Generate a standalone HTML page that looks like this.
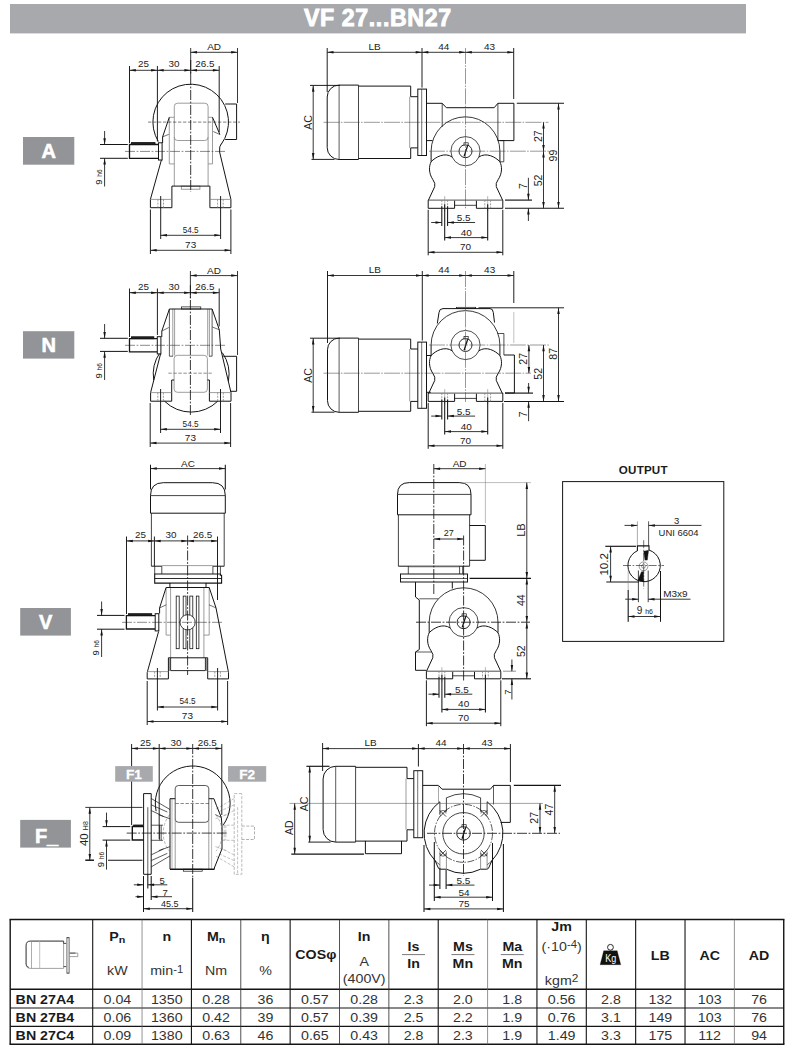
<!DOCTYPE html>
<html><head><meta charset="utf-8"><title>VF 27...BN27</title>
<style>
html,body{margin:0;padding:0;background:#fff;}
body{width:794px;height:1052px;overflow:hidden;}
svg{display:block;font-family:'Liberation Sans', sans-serif;}
</style></head><body>
<svg width="794" height="1052" viewBox="0 0 794 1052">
<rect width="794" height="1052" fill="#fff"/>
<rect x="10" y="4" width="736" height="29.4" fill="#a7a9ac"/>
<text x="377.8" y="26.1" font-size="23.2" font-weight="bold" text-anchor="middle" fill="#fff" stroke="#fff" stroke-width="0.9" letter-spacing="0.6">VF 27...BN27</text>
<rect x="23" y="137" width="51.3" height="27.7" fill="#929497"/>
<text x="48.65" y="158.15" font-size="20" font-weight="bold" text-anchor="middle" fill="#fff" stroke="#fff" stroke-width="0.6">A</text>
<rect x="23" y="331.2" width="51.3" height="27.4" fill="#929497"/>
<text x="48.65" y="351.8" font-size="20" font-weight="bold" text-anchor="middle" fill="#fff" stroke="#fff" stroke-width="0.6">N</text>
<rect x="20.2" y="608" width="50.7" height="27.6" fill="#929497"/>
<text x="45.55" y="628.6" font-size="20" font-weight="bold" text-anchor="middle" fill="#fff" stroke="#fff" stroke-width="0.6">V</text>
<rect x="20.2" y="819.9" width="50.7" height="27.7" fill="#929497"/>
<text x="46.55" y="842.65" font-size="20" font-weight="bold" text-anchor="middle" fill="#fff" stroke="#fff" stroke-width="0.6">F_</text>
<text x="643.3" y="474" font-size="11.6" font-weight="bold" text-anchor="middle" fill="#1a1a1a" letter-spacing="0.2">OUTPUT</text>
<rect x="562.6" y="481.6" width="161.2" height="159.8" rx="0" stroke="#141414" stroke-width="1.0" fill="none"/>
<path d="M637.4,550.75 A16.2,16.2 0 1 0 649,550.06" stroke="#141414" stroke-width="1.0" fill="none" />
<path d="M637.4,551.05 V545.9 H649 V550.36" stroke="#141414" stroke-width="1.1" fill="none" />
<path d="M643.7,551.35 L648.6,550.26 L647.3,560.1 L645,560.1 Z" stroke="#141414" stroke-width="0.4" fill="#111" />
<path d="M643.6,571.7 L641.5,571.7 L637.8,580.5 L643.6,581.5 Z" stroke="#141414" stroke-width="0.4" fill="#111" />
<circle cx="643.5" cy="566.3" r="4.4" stroke="#555" stroke-width="0.6" fill="none"/>
<circle cx="643.5" cy="566.3" r="1.9" stroke="#555" stroke-width="0.6" fill="none"/>
<line x1="623" y1="565.5" x2="664" y2="565.5" stroke="#141414" stroke-width="0.6" stroke-dasharray="8 1.6 1.6 1.6"/>
<line x1="643.7" y1="540.2" x2="643.7" y2="588.6" stroke="#141414" stroke-width="0.6" stroke-dasharray="8 1.6 1.6 1.6"/>
<line x1="637.4" y1="521.3" x2="637.4" y2="545.9" stroke="#666" stroke-width="0.55"/>
<line x1="648.6" y1="521.3" x2="648.6" y2="545.9" stroke="#141414" stroke-width="0.7"/>
<line x1="624.5" y1="525.4" x2="637.4" y2="525.4" stroke="#141414" stroke-width="0.85"/>
<line x1="648.6" y1="525.4" x2="701.5" y2="525.4" stroke="#141414" stroke-width="0.85"/>
<polygon points="637.4,525.4 631.1,526.65 631.1,524.15" fill="#141414"/>
<polygon points="648.6,525.4 654.9,524.15 654.9,526.65" fill="#141414"/>
<text transform="translate(676.6 520.9) scale(1.0 1)" y="3.4" font-size="9.45" text-anchor="middle" font-weight="normal" fill="#222" >3</text>
<text transform="translate(678.5 532.8) scale(1.0 1)" y="3.4" font-size="9.45" text-anchor="middle" font-weight="normal" fill="#222" >UNI 6604</text>
<line x1="605.3" y1="546.3" x2="636" y2="546.3" stroke="#141414" stroke-width="1.15"/>
<line x1="606.3" y1="582" x2="638.8" y2="582" stroke="#141414" stroke-width="1.15"/>
<line x1="610.6" y1="546.3" x2="610.6" y2="582" stroke="#141414" stroke-width="0.85"/>
<polygon points="610.6,546.3 611.85,552.6 609.35,552.6" fill="#141414"/>
<polygon points="610.6,582 609.35,575.7 611.85,575.7" fill="#141414"/>
<text transform="translate(603.9 564.3) rotate(-90) scale(1.0 1)" y="4.17" font-size="11.58" text-anchor="middle" font-weight="normal" fill="#222" >10.2</text>
<line x1="638.4" y1="570.5" x2="638.4" y2="602.2" stroke="#141414" stroke-width="0.8"/>
<line x1="648.2" y1="570.5" x2="648.2" y2="602.2" stroke="#141414" stroke-width="0.8"/>
<line x1="625.2" y1="599.2" x2="638.4" y2="599.2" stroke="#141414" stroke-width="0.85"/>
<line x1="648.2" y1="599.2" x2="690.5" y2="599.2" stroke="#141414" stroke-width="0.85"/>
<polygon points="638.4,599.2 632.1,600.45 632.1,597.95" fill="#141414"/>
<polygon points="648.2,599.2 654.5,597.95 654.5,600.45" fill="#141414"/>
<text transform="translate(675.4 593.8) scale(1.0 1)" y="3.59" font-size="9.97" text-anchor="middle" font-weight="normal" fill="#222" >M3x9</text>
<line x1="628.2" y1="570.5" x2="628.2" y2="621.8" stroke="#848484" stroke-width="0.6"/>
<line x1="628.2" y1="590" x2="628.2" y2="621.8" stroke="#141414" stroke-width="0.95"/>
<line x1="660.5" y1="571" x2="660.5" y2="621.8" stroke="#141414" stroke-width="1.05"/>
<line x1="628.2" y1="616.5" x2="660.5" y2="616.5" stroke="#141414" stroke-width="0.85"/>
<polygon points="628.2,616.5 634.5,615.25 634.5,617.75" fill="#141414"/>
<polygon points="660.5,616.5 654.2,617.75 654.2,615.25" fill="#141414"/>
<text x="636.8" y="613.6" font-size="10" fill="#222">9 <tspan font-size="7">h6</tspan></text>
<path d="M158.3,141.47 A37.8,37.8 0 1 1 221.28,144.22" stroke="#141414" stroke-width="1.0" fill="none" />
<path d="M225.2,104 H236.6 V139.5 H225.2" stroke="#141414" stroke-width="1.0" fill="none" />
<rect x="174.3" y="103.2" width="33.8" height="37.3" rx="3.3" stroke="#848484" stroke-width="0.8" fill="none"/>
<line x1="174.3" y1="137" x2="174.3" y2="186.1" stroke="#848484" stroke-width="0.8"/>
<line x1="208.1" y1="137" x2="208.1" y2="186.1" stroke="#848484" stroke-width="0.8"/>
<path d="M174.3,117.3 H169.3 V163.9 H174.3" stroke="#848484" stroke-width="0.8" fill="none" />
<path d="M208.1,117.3 H212.5 V163.9 H208.1" stroke="#848484" stroke-width="0.8" fill="none" />
<rect x="181.3" y="186.1" width="18.6" height="3.1" rx="0" stroke="#848484" stroke-width="0.8" fill="none"/>
<path d="M169.3,117.3 L162.6,136.9 V143 M161.5,159.6 L150.4,199.4 V207.7 H171.9 V186.1 H209.9 V207.7 H230.9 V199.4 L219.6,152 Q219,146 221.4,143.6 M212.5,117.3 L219.9,134.5" stroke="#141414" stroke-width="1.0" fill="none" />
<path d="M162.6,136.9 L168.8,134.3" stroke="#141414" stroke-width="0.6" fill="none" />
<path d="M219.9,134.5 L213.2,131.5" stroke="#141414" stroke-width="0.6" fill="none" />
<line x1="150.4" y1="199.4" x2="171.9" y2="199.4" stroke="#848484" stroke-width="0.8"/>
<line x1="209.9" y1="199.4" x2="230.9" y2="199.4" stroke="#848484" stroke-width="0.8"/>
<line x1="157.9" y1="199.4" x2="157.9" y2="207.7" stroke="#848484" stroke-width="0.8" stroke-dasharray="2 1.2"/>
<line x1="163.5" y1="199.4" x2="163.5" y2="207.7" stroke="#848484" stroke-width="0.8" stroke-dasharray="2 1.2"/>
<line x1="217.6" y1="199.4" x2="217.6" y2="207.7" stroke="#848484" stroke-width="0.8" stroke-dasharray="2 1.2"/>
<line x1="223.2" y1="199.4" x2="223.2" y2="207.7" stroke="#848484" stroke-width="0.8" stroke-dasharray="2 1.2"/>
<path d="M158.5,144.5 H129.5 V158.3 H158.5" stroke="#141414" stroke-width="1.3" fill="none" />
<rect x="131.5" y="142.6" width="23.5" height="1.9" rx="0" stroke="#141414" stroke-width="0.9" fill="#222"/>
<rect x="158.5" y="142.8" width="3.6" height="17.2" rx="0" stroke="#141414" stroke-width="1.0" fill="#fff"/>
<line x1="148" y1="122.1" x2="240" y2="122.1" stroke="#141414" stroke-width="0.55" stroke-dasharray="3.4 1.6"/>
<line x1="125" y1="151.4" x2="225" y2="151.4" stroke="#141414" stroke-width="0.5" stroke-dasharray="10 1.6 1.8 1.6"/>
<line x1="190.7" y1="60" x2="190.7" y2="192" stroke="#141414" stroke-width="0.85" stroke-dasharray="10 1.6 1.8 1.6"/>
<line x1="190.7" y1="48" x2="190.7" y2="75" stroke="#141414" stroke-width="0.85"/>
<line x1="237.5" y1="48" x2="237.5" y2="103" stroke="#141414" stroke-width="0.85"/>
<line x1="190.7" y1="52.3" x2="237.5" y2="52.3" stroke="#141414" stroke-width="0.85"/>
<polygon points="190.7,52.3 197,51.05 197,53.55" fill="#141414"/>
<polygon points="237.5,52.3 231.2,53.55 231.2,51.05" fill="#141414"/>
<text transform="translate(214.1 46.6) scale(1.0 1)" y="3.59" font-size="9.97" text-anchor="middle" font-weight="normal" fill="#222" >AD</text>
<line x1="129.5" y1="66" x2="129.5" y2="143" stroke="#141414" stroke-width="0.95"/>
<line x1="157.4" y1="66" x2="157.4" y2="141.5" stroke="#141414" stroke-width="0.95"/>
<line x1="219.2" y1="66" x2="219.2" y2="132" stroke="#141414" stroke-width="0.95"/>
<line x1="129.5" y1="70.3" x2="157.4" y2="70.3" stroke="#141414" stroke-width="0.85"/>
<polygon points="129.5,70.3 135.8,69.05 135.8,71.55" fill="#141414"/>
<polygon points="157.4,70.3 151.1,71.55 151.1,69.05" fill="#141414"/>
<text transform="translate(143.45 63.6) scale(1.0 1)" y="3.55" font-size="9.87" text-anchor="middle" font-weight="normal" fill="#222" >25</text>
<line x1="157.4" y1="70.3" x2="190.7" y2="70.3" stroke="#141414" stroke-width="0.85"/>
<polygon points="157.4,70.3 163.7,69.05 163.7,71.55" fill="#141414"/>
<polygon points="190.7,70.3 184.4,71.55 184.4,69.05" fill="#141414"/>
<text transform="translate(174.05 63.6) scale(1.0 1)" y="3.55" font-size="9.87" text-anchor="middle" font-weight="normal" fill="#222" >30</text>
<line x1="190.7" y1="70.3" x2="219.2" y2="70.3" stroke="#141414" stroke-width="0.85"/>
<polygon points="190.7,70.3 197,69.05 197,71.55" fill="#141414"/>
<polygon points="219.2,70.3 212.9,71.55 212.9,69.05" fill="#141414"/>
<text transform="translate(204.95 63.6) scale(1.0 1)" y="3.55" font-size="9.87" text-anchor="middle" font-weight="normal" fill="#222" >26.5</text>
<line x1="160.7" y1="196" x2="160.7" y2="239" stroke="#141414" stroke-width="0.95"/>
<line x1="220.6" y1="196" x2="220.6" y2="239" stroke="#141414" stroke-width="0.95"/>
<line x1="150.4" y1="209.5" x2="150.4" y2="254" stroke="#141414" stroke-width="0.95"/>
<line x1="230.9" y1="209.5" x2="230.9" y2="254" stroke="#141414" stroke-width="0.95"/>
<line x1="160.7" y1="235.3" x2="220.6" y2="235.3" stroke="#141414" stroke-width="0.85"/>
<polygon points="160.7,235.3 167,234.05 167,236.55" fill="#141414"/>
<polygon points="220.6,235.3 214.3,236.55 214.3,234.05" fill="#141414"/>
<text transform="translate(190.65 229.6) scale(1.0 1)" y="2.95" font-size="8.19" text-anchor="middle" font-weight="normal" fill="#222" >54.5</text>
<line x1="150.4" y1="250.3" x2="230.9" y2="250.3" stroke="#141414" stroke-width="0.85"/>
<polygon points="150.4,250.3 156.7,249.05 156.7,251.55" fill="#141414"/>
<polygon points="230.9,250.3 224.6,251.55 224.6,249.05" fill="#141414"/>
<text transform="translate(190.65 244.2) scale(1.0 1)" y="3.59" font-size="9.97" text-anchor="middle" font-weight="normal" fill="#222" >73</text>
<line x1="100" y1="144.5" x2="127.8" y2="144.5" stroke="#141414" stroke-width="1.0"/>
<line x1="100" y1="158.3" x2="127.8" y2="158.3" stroke="#141414" stroke-width="1.0"/>
<line x1="104.6" y1="131" x2="104.6" y2="144.5" stroke="#141414" stroke-width="0.85"/>
<line x1="104.6" y1="158.3" x2="104.6" y2="186.5" stroke="#141414" stroke-width="0.85"/>
<polygon points="104.6,144.5 103.35,138.2 105.85,138.2" fill="#141414"/>
<polygon points="104.6,158.3 105.85,164.6 103.35,164.6" fill="#141414"/>
<text transform="translate(102.4 184.8) rotate(-90)" font-size="9.6" fill="#222">9 <tspan font-size="6.6">h6</tspan></text>
<path d="M358.5,85.1 H339.1 A11.9,11.9 0 0 0 327.2,97 V147.6 A11.9,11.9 0 0 0 339.1,159.5 H358.5" stroke="#141414" stroke-width="1.0" fill="none" />
<line x1="339.1" y1="85.1" x2="339.1" y2="159.5" stroke="#141414" stroke-width="0.7"/>
<line x1="358.5" y1="85.1" x2="358.5" y2="159.5" stroke="#141414" stroke-width="0.8"/>
<path d="M358.5,86.1 H410.7 V96.7 H417.8 M417.8,147.9 H410.7 V158.5 H358.5" stroke="#141414" stroke-width="1.0" fill="none" />
<line x1="409.7" y1="96.7" x2="409.7" y2="147.9" stroke="#848484" stroke-width="0.8"/>
<rect x="417.8" y="89.1" width="8.7" height="66.4" rx="0" stroke="#141414" stroke-width="1.0" fill="none"/>
<line x1="421.7" y1="89.1" x2="421.7" y2="155.5" stroke="#141414" stroke-width="0.6"/>
<path d="M426.5,103.3 H442.2 L446.3,107.7 H494.2 L497.9,103.3 H513.9 V140.6 H497.9" stroke="#141414" stroke-width="1.0" fill="none" />
<line x1="442.2" y1="103.3" x2="442.2" y2="127" stroke="#141414" stroke-width="0.75"/>
<line x1="497.9" y1="103.3" x2="497.9" y2="140.6" stroke="#141414" stroke-width="0.75"/>
<path d="M426.5,140.6 H432.5" stroke="#141414" stroke-width="1.0" fill="none" />
<path d="M499.8,140.6 H503.8 V161.8 H499.9" stroke="#141414" stroke-width="0.75" fill="none" />
<circle cx="465.5" cy="151.2" r="14.6" stroke="#141414" stroke-width="0.75" fill="none"/>
<circle cx="465.5" cy="151.2" r="6.5" stroke="#141414" stroke-width="0.9" fill="none"/>
<rect x="464" y="142.8" width="4.2" height="2.2" rx="0" stroke="#141414" stroke-width="0.7" fill="#fff"/>
<path d="M467.7,145.4 L464.1,156.4" stroke="#141414" stroke-width="1.3" fill="none" />
<path d="M431.1,151.2 A34.4,34.4 0 0 1 499.9,151.2" stroke="#141414" stroke-width="0.85" fill="none" />
<path d="M431.1,151.2 V161.7 C428.9,166.2 428.5,173.2 432.9,179.7 Q435.7,183.5 434.7,186.7 L428.5,200" stroke="#141414" stroke-width="1.0" fill="none" />
<path d="M431.1,161.7 C435.5,157.2 444.5,151.8 452.4,157.1" stroke="#141414" stroke-width="1.0" fill="none" />
<path d="M499.9,151.2 V161.7 C502.1,166.2 502.5,173.2 498.1,179.7 Q495.3,183.5 496.3,186.7 L502.5,200" stroke="#141414" stroke-width="1.0" fill="none" />
<path d="M499.9,161.7 C495.5,157.2 486.5,151.8 478.6,157.1" stroke="#141414" stroke-width="1.0" fill="none" />
<line x1="428.2" y1="200.1" x2="502.8" y2="200.1" stroke="#141414" stroke-width="0.75"/>
<path d="M428.2,200.1 V208.3 H454.6 V200.7 M476.4,200.7 V208.3 H502.8 V200.1" stroke="#141414" stroke-width="1.0" fill="none" />
<line x1="454.6" y1="205.3" x2="476.4" y2="205.3" stroke="#141414" stroke-width="0.8"/>
<line x1="441.8" y1="200.1" x2="441.8" y2="208.3" stroke="#848484" stroke-width="0.8" stroke-dasharray="2 1.2"/>
<line x1="447.6" y1="200.1" x2="447.6" y2="208.3" stroke="#848484" stroke-width="0.8" stroke-dasharray="2 1.2"/>
<line x1="444.7" y1="196.1" x2="444.7" y2="211.3" stroke="#848484" stroke-width="0.6"/>
<line x1="484.8" y1="200.1" x2="484.8" y2="208.3" stroke="#848484" stroke-width="0.8" stroke-dasharray="2 1.2"/>
<line x1="490.6" y1="200.1" x2="490.6" y2="208.3" stroke="#848484" stroke-width="0.8" stroke-dasharray="2 1.2"/>
<line x1="487.7" y1="196.1" x2="487.7" y2="211.3" stroke="#848484" stroke-width="0.6"/>
<line x1="323.5" y1="122.3" x2="548.5" y2="122.3" stroke="#333" stroke-width="0.5" stroke-dasharray="16 1.3 1.6 1.3"/>
<line x1="465.5" y1="48" x2="465.5" y2="209" stroke="#333" stroke-width="0.5" stroke-dasharray="16 1.3 1.6 1.3"/>
<line x1="429" y1="151.2" x2="549" y2="151.2" stroke="#333" stroke-width="0.5" stroke-dasharray="16 1.3 1.6 1.3"/>
<line x1="327.2" y1="48" x2="327.2" y2="92" stroke="#141414" stroke-width="0.95"/>
<line x1="422" y1="48" x2="422" y2="87.6" stroke="#141414" stroke-width="0.95"/>
<line x1="513.7" y1="48" x2="513.7" y2="99" stroke="#141414" stroke-width="0.95"/>
<line x1="327.2" y1="52.3" x2="422" y2="52.3" stroke="#141414" stroke-width="0.85"/>
<polygon points="327.2,52.3 333.5,51.05 333.5,53.55" fill="#141414"/>
<polygon points="422,52.3 415.7,53.55 415.7,51.05" fill="#141414"/>
<text transform="translate(374.6 46.3) scale(1.0 1)" y="3.59" font-size="9.97" text-anchor="middle" font-weight="normal" fill="#222" >LB</text>
<line x1="422" y1="52.3" x2="465.5" y2="52.3" stroke="#141414" stroke-width="0.85"/>
<polygon points="422,52.3 428.3,51.05 428.3,53.55" fill="#141414"/>
<polygon points="465.5,52.3 459.2,53.55 459.2,51.05" fill="#141414"/>
<text transform="translate(443.75 46.3) scale(1.0 1)" y="3.59" font-size="9.97" text-anchor="middle" font-weight="normal" fill="#222" >44</text>
<line x1="465.5" y1="52.3" x2="513.7" y2="52.3" stroke="#141414" stroke-width="0.85"/>
<polygon points="465.5,52.3 471.8,51.05 471.8,53.55" fill="#141414"/>
<polygon points="513.7,52.3 507.4,53.55 507.4,51.05" fill="#141414"/>
<text transform="translate(489.6 46.3) scale(1.0 1)" y="3.59" font-size="9.97" text-anchor="middle" font-weight="normal" fill="#222" >43</text>
<line x1="310" y1="85.4" x2="340" y2="85.4" stroke="#141414" stroke-width="0.95"/>
<line x1="311.5" y1="159.4" x2="334.5" y2="159.4" stroke="#141414" stroke-width="0.95"/>
<line x1="313.2" y1="85.4" x2="313.2" y2="159.4" stroke="#141414" stroke-width="0.85"/>
<polygon points="313.2,85.4 314.45,91.7 311.95,91.7" fill="#141414"/>
<polygon points="313.2,159.4 311.95,153.1 314.45,153.1" fill="#141414"/>
<text transform="translate(308 122.4) rotate(-90) scale(1.0 1)" y="3.81" font-size="10.57" text-anchor="middle" font-weight="normal" fill="#222" >AC</text>
<line x1="516.8" y1="103.3" x2="564" y2="103.3" stroke="#141414" stroke-width="1.05"/>
<line x1="505" y1="200.1" x2="532" y2="200.1" stroke="#141414" stroke-width="1.15"/>
<line x1="505" y1="208.3" x2="564" y2="208.3" stroke="#141414" stroke-width="1.05"/>
<line x1="543.5" y1="122.3" x2="543.5" y2="151.2" stroke="#141414" stroke-width="0.85"/>
<polygon points="543.5,122.3 544.75,128.6 542.25,128.6" fill="#141414"/>
<polygon points="543.5,151.2 542.25,144.9 544.75,144.9" fill="#141414"/>
<text transform="translate(538 136.2) rotate(-90) scale(1.0 1)" y="3.81" font-size="10.57" text-anchor="middle" font-weight="normal" fill="#222" >27</text>
<line x1="543.5" y1="151.2" x2="543.5" y2="208.3" stroke="#141414" stroke-width="0.85"/>
<polygon points="543.5,151.2 544.75,157.5 542.25,157.5" fill="#141414"/>
<polygon points="543.5,208.3 542.25,202 544.75,202" fill="#141414"/>
<text transform="translate(538 180.4) rotate(-90) scale(1.0 1)" y="3.81" font-size="10.57" text-anchor="middle" font-weight="normal" fill="#222" >52</text>
<line x1="558.5" y1="103.3" x2="558.5" y2="208.3" stroke="#141414" stroke-width="0.85"/>
<polygon points="558.5,103.3 559.75,109.6 557.25,109.6" fill="#141414"/>
<polygon points="558.5,208.3 557.25,202 559.75,202" fill="#141414"/>
<text transform="translate(552.8 155.6) rotate(-90) scale(1.0 1)" y="3.81" font-size="10.57" text-anchor="middle" font-weight="normal" fill="#222" >99</text>
<line x1="528.4" y1="177.8" x2="528.4" y2="200.1" stroke="#141414" stroke-width="0.85"/>
<line x1="528.4" y1="208.3" x2="528.4" y2="221" stroke="#141414" stroke-width="0.85"/>
<polygon points="528.4,200.1 527.15,193.8 529.65,193.8" fill="#141414"/>
<polygon points="528.4,208.3 529.65,214.6 527.15,214.6" fill="#141414"/>
<text transform="translate(523.3 186) rotate(-90) scale(1.0 1)" y="3.81" font-size="10.57" text-anchor="middle" font-weight="normal" fill="#222" >7</text>
<line x1="428.2" y1="209.8" x2="428.2" y2="255.3" stroke="#141414" stroke-width="0.95"/>
<line x1="502.8" y1="209.8" x2="502.8" y2="255.3" stroke="#141414" stroke-width="0.95"/>
<line x1="428.2" y1="252.3" x2="502.8" y2="252.3" stroke="#141414" stroke-width="0.85"/>
<polygon points="428.2,252.3 434.5,251.05 434.5,253.55" fill="#141414"/>
<polygon points="502.8,252.3 496.5,253.55 496.5,251.05" fill="#141414"/>
<text transform="translate(465.5 246.9) scale(1.0 1)" y="3.59" font-size="9.97" text-anchor="middle" font-weight="normal" fill="#222" >70</text>
<line x1="444.7" y1="204.3" x2="444.7" y2="240.6" stroke="#141414" stroke-width="1.05"/>
<line x1="487.7" y1="204.3" x2="487.7" y2="240.6" stroke="#141414" stroke-width="1.05"/>
<line x1="444.7" y1="237.6" x2="487.7" y2="237.6" stroke="#141414" stroke-width="0.85"/>
<polygon points="444.7,237.6 451,236.35 451,238.85" fill="#141414"/>
<polygon points="487.7,237.6 481.4,238.85 481.4,236.35" fill="#141414"/>
<text transform="translate(466.2 232) scale(1.0 1)" y="3.59" font-size="9.97" text-anchor="middle" font-weight="normal" fill="#222" >40</text>
<line x1="441.8" y1="206.3" x2="441.8" y2="226" stroke="#141414" stroke-width="1.05"/>
<line x1="447.6" y1="206.3" x2="447.6" y2="226" stroke="#141414" stroke-width="1.05"/>
<line x1="431.2" y1="222.5" x2="441.8" y2="222.5" stroke="#141414" stroke-width="0.85"/>
<line x1="447.6" y1="222.5" x2="475.1" y2="222.5" stroke="#141414" stroke-width="0.85"/>
<polygon points="441.8,222.5 435.5,223.75 435.5,221.25" fill="#141414"/>
<polygon points="447.6,222.5 453.9,221.25 453.9,223.75" fill="#141414"/>
<text transform="translate(463.7 217.9) scale(1.0 1)" y="3.59" font-size="9.97" text-anchor="middle" font-weight="normal" fill="#222" >5.5</text>
<path d="M222.31,352.62 A37.9,37.9 0 0 1 228.38,381.3" stroke="#141414" stroke-width="1.0" fill="none" />
<path d="M217.67,401.28 A37.9,37.9 0 0 1 164.63,401.28" stroke="#141414" stroke-width="1.0" fill="none" />
<path d="M153.72,380.13 A37.9,37.9 0 0 1 160.1,352.46" stroke="#141414" stroke-width="1.0" fill="none" />
<path d="M223.3,356.3 H236.6 V391.3 H230.3" stroke="#141414" stroke-width="1.0" fill="none" />
<rect x="174.1" y="355.3" width="33.3" height="37" rx="3.3" stroke="#848484" stroke-width="0.8" fill="none"/>
<path d="M172.8,309 V356.2 M174.6,309 V355.5 M207.7,309 V355.5 M209.4,309 V356.2" stroke="#848484" stroke-width="0.8" fill="none" />
<path d="M169.4,309 V356.2 H173 M212.1,309 V356.2 H209" stroke="#141414" stroke-width="0.7" fill="none" />
<rect x="181.4" y="306.9" width="19.4" height="2.1" rx="0" stroke="#141414" stroke-width="0.7" fill="none"/>
<path d="M161.8,337 V331.1 L169.4,309 H212.1 L219.3,329.8 L220.7,349 L231,392.6 V401.2 H209.4 V380 H207.4 M174.1,380 H171.7 V401.2 H150.6 V392.6 L160.6,353.8" stroke="#141414" stroke-width="1.0" fill="none" />
<path d="M161.8,331.1 L168.8,327.5" stroke="#141414" stroke-width="0.6" fill="none" />
<path d="M219.3,329.8 L212.3,327" stroke="#141414" stroke-width="0.6" fill="none" />
<line x1="150.6" y1="392.6" x2="171.7" y2="392.6" stroke="#848484" stroke-width="0.8"/>
<line x1="209.4" y1="392.6" x2="231" y2="392.6" stroke="#848484" stroke-width="0.8"/>
<line x1="157.8" y1="392.6" x2="157.8" y2="401.2" stroke="#848484" stroke-width="0.8" stroke-dasharray="2 1.2"/>
<line x1="163.4" y1="392.6" x2="163.4" y2="401.2" stroke="#848484" stroke-width="0.8" stroke-dasharray="2 1.2"/>
<line x1="217.7" y1="392.6" x2="217.7" y2="401.2" stroke="#848484" stroke-width="0.8" stroke-dasharray="2 1.2"/>
<line x1="223.3" y1="392.6" x2="223.3" y2="401.2" stroke="#848484" stroke-width="0.8" stroke-dasharray="2 1.2"/>
<path d="M157.3,338.7 H129.5 V351.9 H157.3" stroke="#141414" stroke-width="1.3" fill="none" />
<rect x="131.5" y="336.8" width="22.3" height="1.9" rx="0" stroke="#141414" stroke-width="0.9" fill="#222"/>
<rect x="157.3" y="336.7" width="3.6" height="17.2" rx="0" stroke="#141414" stroke-width="1.0" fill="#fff"/>
<line x1="168.4" y1="373.2" x2="212" y2="373.2" stroke="#444" stroke-width="0.6" stroke-dasharray="3.4 1.6"/>
<line x1="125" y1="345.3" x2="225" y2="345.3" stroke="#141414" stroke-width="0.5" stroke-dasharray="10 1.6 1.8 1.6"/>
<line x1="190.4" y1="271" x2="190.4" y2="298" stroke="#141414" stroke-width="0.85"/>
<line x1="190.4" y1="285" x2="190.4" y2="415" stroke="#141414" stroke-width="0.85" stroke-dasharray="10 1.6 1.8 1.6"/>
<line x1="237.5" y1="271" x2="237.5" y2="355" stroke="#141414" stroke-width="0.85"/>
<line x1="190.4" y1="275.6" x2="237.5" y2="275.6" stroke="#141414" stroke-width="0.85"/>
<polygon points="190.4,275.6 196.7,274.35 196.7,276.85" fill="#141414"/>
<polygon points="237.5,275.6 231.2,276.85 231.2,274.35" fill="#141414"/>
<text transform="translate(213.95 270) scale(1.0 1)" y="3.59" font-size="9.97" text-anchor="middle" font-weight="normal" fill="#222" >AD</text>
<line x1="129.5" y1="288.5" x2="129.5" y2="337" stroke="#141414" stroke-width="0.95"/>
<line x1="157.4" y1="288.5" x2="157.4" y2="335" stroke="#141414" stroke-width="0.95"/>
<line x1="219.2" y1="288.5" x2="219.2" y2="326.4" stroke="#141414" stroke-width="0.95"/>
<line x1="129.5" y1="292.7" x2="157.4" y2="292.7" stroke="#141414" stroke-width="0.85"/>
<polygon points="129.5,292.7 135.8,291.45 135.8,293.95" fill="#141414"/>
<polygon points="157.4,292.7 151.1,293.95 151.1,291.45" fill="#141414"/>
<text transform="translate(143.45 286) scale(1.0 1)" y="3.55" font-size="9.87" text-anchor="middle" font-weight="normal" fill="#222" >25</text>
<line x1="157.4" y1="292.7" x2="190.4" y2="292.7" stroke="#141414" stroke-width="0.85"/>
<polygon points="157.4,292.7 163.7,291.45 163.7,293.95" fill="#141414"/>
<polygon points="190.4,292.7 184.1,293.95 184.1,291.45" fill="#141414"/>
<text transform="translate(173.9 286) scale(1.0 1)" y="3.55" font-size="9.87" text-anchor="middle" font-weight="normal" fill="#222" >30</text>
<line x1="190.4" y1="292.7" x2="219.2" y2="292.7" stroke="#141414" stroke-width="0.85"/>
<polygon points="190.4,292.7 196.7,291.45 196.7,293.95" fill="#141414"/>
<polygon points="219.2,292.7 212.9,293.95 212.9,291.45" fill="#141414"/>
<text transform="translate(204.8 286) scale(1.0 1)" y="3.55" font-size="9.87" text-anchor="middle" font-weight="normal" fill="#222" >26.5</text>
<line x1="160.6" y1="389" x2="160.6" y2="433" stroke="#141414" stroke-width="0.95"/>
<line x1="220.5" y1="389" x2="220.5" y2="433" stroke="#141414" stroke-width="0.95"/>
<line x1="150.2" y1="403" x2="150.2" y2="447" stroke="#141414" stroke-width="0.95"/>
<line x1="230.6" y1="403" x2="230.6" y2="447" stroke="#141414" stroke-width="0.95"/>
<line x1="160.6" y1="429.3" x2="220.5" y2="429.3" stroke="#141414" stroke-width="0.85"/>
<polygon points="160.6,429.3 166.9,428.05 166.9,430.55" fill="#141414"/>
<polygon points="220.5,429.3 214.2,430.55 214.2,428.05" fill="#141414"/>
<text transform="translate(190.55 423.6) scale(1.0 1)" y="2.95" font-size="8.19" text-anchor="middle" font-weight="normal" fill="#222" >54.5</text>
<line x1="150.2" y1="443.1" x2="230.6" y2="443.1" stroke="#141414" stroke-width="0.85"/>
<polygon points="150.2,443.1 156.5,441.85 156.5,444.35" fill="#141414"/>
<polygon points="230.6,443.1 224.3,444.35 224.3,441.85" fill="#141414"/>
<text transform="translate(190.4 437.2) scale(1.0 1)" y="3.59" font-size="9.97" text-anchor="middle" font-weight="normal" fill="#222" >73</text>
<line x1="100" y1="338.3" x2="127.8" y2="338.3" stroke="#141414" stroke-width="1.0"/>
<line x1="100" y1="351.4" x2="127.8" y2="351.4" stroke="#141414" stroke-width="1.0"/>
<line x1="104.6" y1="324" x2="104.6" y2="338.3" stroke="#141414" stroke-width="0.85"/>
<line x1="104.6" y1="351.4" x2="104.6" y2="380" stroke="#141414" stroke-width="0.85"/>
<polygon points="104.6,338.3 103.35,332 105.85,332" fill="#141414"/>
<polygon points="104.6,351.4 105.85,357.7 103.35,357.7" fill="#141414"/>
<text transform="translate(102.4 378.5) rotate(-90)" font-size="9.6" fill="#222">9 <tspan font-size="6.6">h6</tspan></text>
<path d="M358.5,338.1 H339.1 A11.6,11.6 0 0 0 327.5,349.7 V400.7 A11.6,11.6 0 0 0 339.1,412.3 H358.5" stroke="#141414" stroke-width="1.0" fill="none" />
<line x1="339.1" y1="338.1" x2="339.1" y2="412.3" stroke="#141414" stroke-width="0.7"/>
<line x1="358.5" y1="338.1" x2="358.5" y2="412.3" stroke="#141414" stroke-width="0.8"/>
<path d="M358.5,339.1 H410.7 V349 H417.8 M417.8,401.4 H410.7 V411.3 H358.5" stroke="#141414" stroke-width="1.0" fill="none" />
<line x1="409.7" y1="349" x2="409.7" y2="401.4" stroke="#848484" stroke-width="0.8"/>
<rect x="417.8" y="342.1" width="8.7" height="66.2" rx="0" stroke="#141414" stroke-width="1.0" fill="none"/>
<line x1="421.7" y1="342.1" x2="421.7" y2="408.3" stroke="#141414" stroke-width="0.6"/>
<path d="M437.3,323.5 L439,312.5 Q439.3,308.6 443,308.6 H490 Q492.9,308.6 493.3,312.5 L494.5,322.5" stroke="#141414" stroke-width="1.0" fill="none" />
<rect x="456.4" y="307.3" width="19.3" height="1.3" rx="0" stroke="#141414" stroke-width="0.7" fill="none"/>
<path d="M497.5,333.5 H499.9" stroke="#141414" stroke-width="0.7" fill="none" />
<circle cx="465.5" cy="345" r="14.6" stroke="#141414" stroke-width="0.75" fill="none"/>
<circle cx="465.5" cy="345" r="6.5" stroke="#141414" stroke-width="0.9" fill="none"/>
<rect x="464" y="336.6" width="4.2" height="2.2" rx="0" stroke="#141414" stroke-width="0.7" fill="#fff"/>
<path d="M467.7,339.2 L464.1,350.2" stroke="#141414" stroke-width="1.3" fill="none" />
<path d="M431.1,345 A34.4,34.4 0 0 1 499.9,345" stroke="#141414" stroke-width="0.85" fill="none" />
<path d="M431.1,345 V355.5 C428.9,360 428.5,367 432.9,373.5 Q435.7,377.3 434.7,380.5 L428.5,393.8" stroke="#141414" stroke-width="1.0" fill="none" />
<path d="M431.1,355.5 C435.5,351 444.5,345.6 452.4,350.9" stroke="#141414" stroke-width="1.0" fill="none" />
<path d="M499.9,345 V355.5 C502.1,360 502.5,367 498.1,373.5 Q495.3,377.3 496.3,380.5 L502.5,393.8" stroke="#141414" stroke-width="1.0" fill="none" />
<path d="M499.9,355.5 C495.5,351 486.5,345.6 478.6,350.9" stroke="#141414" stroke-width="1.0" fill="none" />
<line x1="428.2" y1="393.1" x2="502.8" y2="393.1" stroke="#141414" stroke-width="0.75"/>
<path d="M428.2,393.1 V401.4 H454.6 V393.7 M476.4,393.7 V401.4 H502.8 V393.1" stroke="#141414" stroke-width="1.0" fill="none" />
<line x1="454.6" y1="398.4" x2="476.4" y2="398.4" stroke="#141414" stroke-width="0.8"/>
<line x1="441.8" y1="393.1" x2="441.8" y2="401.4" stroke="#848484" stroke-width="0.8" stroke-dasharray="2 1.2"/>
<line x1="447.6" y1="393.1" x2="447.6" y2="401.4" stroke="#848484" stroke-width="0.8" stroke-dasharray="2 1.2"/>
<line x1="444.7" y1="389.1" x2="444.7" y2="404.4" stroke="#848484" stroke-width="0.6"/>
<line x1="484.8" y1="393.1" x2="484.8" y2="401.4" stroke="#848484" stroke-width="0.8" stroke-dasharray="2 1.2"/>
<line x1="490.6" y1="393.1" x2="490.6" y2="401.4" stroke="#848484" stroke-width="0.8" stroke-dasharray="2 1.2"/>
<line x1="487.7" y1="389.1" x2="487.7" y2="404.4" stroke="#848484" stroke-width="0.6"/>
<path d="M426.5,355.5 H431.3 M426.5,392.3 H430.8" stroke="#141414" stroke-width="1.0" fill="none" />
<path d="M503.9,355 H514.4 V393 H505" stroke="#141414" stroke-width="1.0" fill="none" />
<path d="M499.9,333.5 H503.9 V355 " stroke="#141414" stroke-width="0.75" fill="none" />
<line x1="323.5" y1="373.2" x2="531" y2="373.2" stroke="#333" stroke-width="0.5" stroke-dasharray="16 1.3 1.6 1.3"/>
<line x1="465.5" y1="271" x2="465.5" y2="402" stroke="#333" stroke-width="0.5" stroke-dasharray="16 1.3 1.6 1.3"/>
<line x1="429" y1="345" x2="549" y2="345" stroke="#333" stroke-width="0.5" stroke-dasharray="16 1.3 1.6 1.3"/>
<line x1="327.5" y1="271" x2="327.5" y2="343" stroke="#141414" stroke-width="0.95"/>
<line x1="422.3" y1="271" x2="422.3" y2="340.5" stroke="#141414" stroke-width="0.95"/>
<line x1="513.8" y1="271" x2="513.8" y2="303" stroke="#141414" stroke-width="0.95"/>
<line x1="513.8" y1="312" x2="513.8" y2="343" stroke="#848484" stroke-width="0.5"/>
<line x1="327.5" y1="275.5" x2="422.3" y2="275.5" stroke="#141414" stroke-width="0.85"/>
<polygon points="327.5,275.5 333.8,274.25 333.8,276.75" fill="#141414"/>
<polygon points="422.3,275.5 416,276.75 416,274.25" fill="#141414"/>
<text transform="translate(374.9 269.5) scale(1.0 1)" y="3.59" font-size="9.97" text-anchor="middle" font-weight="normal" fill="#222" >LB</text>
<line x1="422.3" y1="275.5" x2="465.5" y2="275.5" stroke="#141414" stroke-width="0.85"/>
<polygon points="422.3,275.5 428.6,274.25 428.6,276.75" fill="#141414"/>
<polygon points="465.5,275.5 459.2,276.75 459.2,274.25" fill="#141414"/>
<text transform="translate(443.9 269.5) scale(1.0 1)" y="3.59" font-size="9.97" text-anchor="middle" font-weight="normal" fill="#222" >44</text>
<line x1="465.5" y1="275.5" x2="513.8" y2="275.5" stroke="#141414" stroke-width="0.85"/>
<polygon points="465.5,275.5 471.8,274.25 471.8,276.75" fill="#141414"/>
<polygon points="513.8,275.5 507.5,276.75 507.5,274.25" fill="#141414"/>
<text transform="translate(489.65 269.5) scale(1.0 1)" y="3.59" font-size="9.97" text-anchor="middle" font-weight="normal" fill="#222" >43</text>
<line x1="310" y1="338.2" x2="340" y2="338.2" stroke="#141414" stroke-width="0.95"/>
<line x1="311.5" y1="412.2" x2="334.5" y2="412.2" stroke="#141414" stroke-width="0.95"/>
<line x1="313.2" y1="338.2" x2="313.2" y2="412.2" stroke="#141414" stroke-width="0.85"/>
<polygon points="313.2,338.2 314.45,344.5 311.95,344.5" fill="#141414"/>
<polygon points="313.2,412.2 311.95,405.9 314.45,405.9" fill="#141414"/>
<text transform="translate(308 375.4) rotate(-90) scale(1.0 1)" y="3.81" font-size="10.57" text-anchor="middle" font-weight="normal" fill="#222" >AC</text>
<line x1="478.5" y1="307.8" x2="564" y2="307.8" stroke="#141414" stroke-width="0.95"/>
<line x1="505" y1="393.1" x2="533" y2="393.1" stroke="#141414" stroke-width="1.15"/>
<line x1="504" y1="401.4" x2="564" y2="401.4" stroke="#141414" stroke-width="1.05"/>
<line x1="528.9" y1="345" x2="528.9" y2="373.2" stroke="#141414" stroke-width="0.85"/>
<polygon points="528.9,345 530.15,351.3 527.65,351.3" fill="#141414"/>
<polygon points="528.9,373.2 527.65,366.9 530.15,366.9" fill="#141414"/>
<text transform="translate(523.5 358.8) rotate(-90) scale(1.0 1)" y="3.81" font-size="10.57" text-anchor="middle" font-weight="normal" fill="#222" >27</text>
<line x1="543.5" y1="345" x2="543.5" y2="401.4" stroke="#141414" stroke-width="0.85"/>
<polygon points="543.5,345 544.75,351.3 542.25,351.3" fill="#141414"/>
<polygon points="543.5,401.4 542.25,395.1 544.75,395.1" fill="#141414"/>
<text transform="translate(538.3 373.8) rotate(-90) scale(1.0 1)" y="3.81" font-size="10.57" text-anchor="middle" font-weight="normal" fill="#222" >52</text>
<line x1="558.5" y1="307.8" x2="558.5" y2="401.4" stroke="#141414" stroke-width="0.85"/>
<polygon points="558.5,307.8 559.75,314.1 557.25,314.1" fill="#141414"/>
<polygon points="558.5,401.4 557.25,395.1 559.75,395.1" fill="#141414"/>
<text transform="translate(552.8 353.8) rotate(-90) scale(1.0 1)" y="3.81" font-size="10.57" text-anchor="middle" font-weight="normal" fill="#222" >87</text>
<line x1="528.6" y1="383" x2="528.6" y2="393.1" stroke="#141414" stroke-width="0.85"/>
<line x1="528.6" y1="401.4" x2="528.6" y2="421.2" stroke="#141414" stroke-width="0.85"/>
<polygon points="528.6,393.1 527.35,386.8 529.85,386.8" fill="#141414"/>
<polygon points="528.6,401.4 529.85,407.7 527.35,407.7" fill="#141414"/>
<text transform="translate(523.4 414.2) rotate(-90) scale(1.0 1)" y="3.81" font-size="10.57" text-anchor="middle" font-weight="normal" fill="#222" >7</text>
<line x1="428.2" y1="402.9" x2="428.2" y2="448.8" stroke="#141414" stroke-width="0.95"/>
<line x1="502.8" y1="402.9" x2="502.8" y2="448.8" stroke="#141414" stroke-width="0.95"/>
<line x1="428.2" y1="445.8" x2="502.8" y2="445.8" stroke="#141414" stroke-width="0.85"/>
<polygon points="428.2,445.8 434.5,444.55 434.5,447.05" fill="#141414"/>
<polygon points="502.8,445.8 496.5,447.05 496.5,444.55" fill="#141414"/>
<text transform="translate(465.5 440.4) scale(1.0 1)" y="3.59" font-size="9.97" text-anchor="middle" font-weight="normal" fill="#222" >70</text>
<line x1="444.7" y1="397.4" x2="444.7" y2="434.6" stroke="#141414" stroke-width="1.05"/>
<line x1="487.7" y1="397.4" x2="487.7" y2="434.6" stroke="#141414" stroke-width="1.05"/>
<line x1="444.7" y1="431.6" x2="487.7" y2="431.6" stroke="#141414" stroke-width="0.85"/>
<polygon points="444.7,431.6 451,430.35 451,432.85" fill="#141414"/>
<polygon points="487.7,431.6 481.4,432.85 481.4,430.35" fill="#141414"/>
<text transform="translate(466.2 426) scale(1.0 1)" y="3.59" font-size="9.97" text-anchor="middle" font-weight="normal" fill="#222" >40</text>
<line x1="441.8" y1="399.4" x2="441.8" y2="419.6" stroke="#141414" stroke-width="1.05"/>
<line x1="447.6" y1="399.4" x2="447.6" y2="419.6" stroke="#141414" stroke-width="1.05"/>
<line x1="431.2" y1="416.1" x2="441.8" y2="416.1" stroke="#141414" stroke-width="0.85"/>
<line x1="447.6" y1="416.1" x2="475.1" y2="416.1" stroke="#141414" stroke-width="0.85"/>
<polygon points="441.8,416.1 435.5,417.35 435.5,414.85" fill="#141414"/>
<polygon points="447.6,416.1 453.9,414.85 453.9,417.35" fill="#141414"/>
<text transform="translate(463.7 411.5) scale(1.0 1)" y="3.59" font-size="9.97" text-anchor="middle" font-weight="normal" fill="#222" >5.5</text>
<path d="M150.5,513.2 V495.6 Q150.5,482.7 163.4,482.7 H212.4 Q225.3,482.7 225.3,495.6 V513.2 Z" stroke="#141414" stroke-width="1.0" fill="none" />
<line x1="150.5" y1="495.6" x2="225.3" y2="495.6" stroke="#141414" stroke-width="0.8"/>
<path d="M151.4,513.2 V566.2 M224.2,513.2 V566.2" stroke="#141414" stroke-width="0.8" fill="none" />
<path d="M151.4,566.2 H161.8 M212.9,566.2 H224.2" stroke="#141414" stroke-width="1.0" fill="none" />
<line x1="161.8" y1="565.6" x2="212.9" y2="565.6" stroke="#848484" stroke-width="0.8"/>
<path d="M154.7,566.2 V574 M161.8,566.2 V574 M212.9,566.2 V574 M220.4,566.2 V574" stroke="#141414" stroke-width="0.75" fill="none" />
<path d="M154.7,574 H220.4 V575.2 H221.6 V583.1 H154.7 Z" stroke="#141414" stroke-width="1.1" fill="none" />
<line x1="154.7" y1="578.5" x2="221.6" y2="578.5" stroke="#141414" stroke-width="0.9"/>
<path d="M169.9,583.1 V587.5 M206,583.1 V587.5" stroke="#141414" stroke-width="1.0" fill="none" />
<path d="M170.6,587.5 V657.8 M203.9,587.5 V657.8" stroke="#848484" stroke-width="0.8" fill="none" />
<path d="M166.1,587.5 V635.1 H170.6 M209.2,587.5 V635.1 H203.9" stroke="#848484" stroke-width="0.8" fill="none" />
<line x1="171" y1="583.4" x2="205" y2="583.4" stroke="#848484" stroke-width="0.6"/>
<rect x="176.2" y="596.1" width="3" height="52.6" rx="0" stroke="#141414" stroke-width="0.8" fill="#fff"/>
<rect x="183.2" y="596.1" width="2.8" height="52.6" rx="0" stroke="#141414" stroke-width="0.8" fill="#fff"/>
<rect x="189.8" y="596.1" width="3" height="52.6" rx="0" stroke="#141414" stroke-width="0.8" fill="#fff"/>
<rect x="196.3" y="596.1" width="2.6" height="52.6" rx="0" stroke="#141414" stroke-width="0.8" fill="#fff"/>
<circle cx="187.6" cy="622.3" r="7.6" stroke="#141414" stroke-width="0.8" fill="#fff"/>
<path d="M159.6,613.5 V607.9 L166.1,587.5 H209.2 L216,607.9 L228.5,672.5 V678.9 H207.7 V657.8 H168.4 V678.9 H147.2 V672.5 L158.6,631.5" stroke="#141414" stroke-width="1.0" fill="none" />
<path d="M159.6,607.9 L166.3,604.8 M216,607.9 L209,604.8" stroke="#141414" stroke-width="0.6" fill="none" />
<path d="M170.6,657.8 V670.6 H205.4 V657.8" stroke="#141414" stroke-width="0.9" fill="none" />
<line x1="169.6" y1="658" x2="169.6" y2="671" stroke="#848484" stroke-width="0.9"/>
<line x1="206.5" y1="658" x2="206.5" y2="671" stroke="#848484" stroke-width="0.9"/>
<line x1="147.2" y1="671.6" x2="168.4" y2="671.6" stroke="#848484" stroke-width="0.8"/>
<line x1="207.7" y1="671.6" x2="228.5" y2="671.6" stroke="#848484" stroke-width="0.8"/>
<line x1="154.6" y1="671.6" x2="154.6" y2="678.9" stroke="#848484" stroke-width="0.8" stroke-dasharray="2 1.2"/>
<line x1="160.2" y1="671.6" x2="160.2" y2="678.9" stroke="#848484" stroke-width="0.8" stroke-dasharray="2 1.2"/>
<line x1="214.8" y1="671.6" x2="214.8" y2="678.9" stroke="#848484" stroke-width="0.8" stroke-dasharray="2 1.2"/>
<line x1="220.4" y1="671.6" x2="220.4" y2="678.9" stroke="#848484" stroke-width="0.8" stroke-dasharray="2 1.2"/>
<path d="M155.2,615.6 H126.4 V629 H155.2" stroke="#141414" stroke-width="1.3" fill="none" />
<rect x="128.4" y="613.7" width="23.3" height="1.9" rx="0" stroke="#141414" stroke-width="0.9" fill="#222"/>
<rect x="155.2" y="613.7" width="3.6" height="17.2" rx="0" stroke="#141414" stroke-width="1.0" fill="#fff"/>
<line x1="122" y1="622.3" x2="222" y2="622.3" stroke="#141414" stroke-width="0.5" stroke-dasharray="10 1.6 1.8 1.6"/>
<line x1="187.6" y1="535.5" x2="187.6" y2="675" stroke="#141414" stroke-width="0.85" stroke-dasharray="10 1.6 1.8 1.6"/>
<line x1="150.5" y1="464.7" x2="150.5" y2="489.4" stroke="#141414" stroke-width="1.05"/>
<line x1="225.3" y1="464.7" x2="225.3" y2="489.4" stroke="#141414" stroke-width="1.05"/>
<line x1="150.5" y1="468.6" x2="225.3" y2="468.6" stroke="#141414" stroke-width="0.85"/>
<polygon points="150.5,468.6 156.8,467.35 156.8,469.85" fill="#141414"/>
<polygon points="225.3,468.6 219,469.85 219,467.35" fill="#141414"/>
<text transform="translate(187.9 463.2) scale(1.0 1)" y="3.59" font-size="9.97" text-anchor="middle" font-weight="normal" fill="#222" >AC</text>
<line x1="126.5" y1="536.5" x2="126.5" y2="614" stroke="#141414" stroke-width="0.95"/>
<line x1="154.4" y1="536.5" x2="154.4" y2="566" stroke="#141414" stroke-width="0.95"/>
<line x1="217.5" y1="536.5" x2="217.5" y2="600" stroke="#141414" stroke-width="0.95"/>
<line x1="126.5" y1="540.9" x2="154.4" y2="540.9" stroke="#141414" stroke-width="0.85"/>
<polygon points="126.5,540.9 132.8,539.65 132.8,542.15" fill="#141414"/>
<polygon points="154.4,540.9 148.1,542.15 148.1,539.65" fill="#141414"/>
<text transform="translate(140.45 534.3) scale(1.0 1)" y="3.55" font-size="9.87" text-anchor="middle" font-weight="normal" fill="#222" >25</text>
<line x1="154.4" y1="540.9" x2="187.6" y2="540.9" stroke="#141414" stroke-width="0.85"/>
<polygon points="154.4,540.9 160.7,539.65 160.7,542.15" fill="#141414"/>
<polygon points="187.6,540.9 181.3,542.15 181.3,539.65" fill="#141414"/>
<text transform="translate(171 534.3) scale(1.0 1)" y="3.55" font-size="9.87" text-anchor="middle" font-weight="normal" fill="#222" >30</text>
<line x1="187.6" y1="540.9" x2="217.5" y2="540.9" stroke="#141414" stroke-width="0.85"/>
<polygon points="187.6,540.9 193.9,539.65 193.9,542.15" fill="#141414"/>
<polygon points="217.5,540.9 211.2,542.15 211.2,539.65" fill="#141414"/>
<text transform="translate(202.55 534.3) scale(1.0 1)" y="3.55" font-size="9.87" text-anchor="middle" font-weight="normal" fill="#222" >26.5</text>
<line x1="157.4" y1="668" x2="157.4" y2="710.5" stroke="#141414" stroke-width="0.95"/>
<line x1="217.6" y1="668" x2="217.6" y2="710.5" stroke="#141414" stroke-width="0.95"/>
<line x1="147.2" y1="681" x2="147.2" y2="725" stroke="#141414" stroke-width="0.95"/>
<line x1="227.6" y1="681" x2="227.6" y2="725" stroke="#141414" stroke-width="0.95"/>
<line x1="157.4" y1="707" x2="217.6" y2="707" stroke="#141414" stroke-width="0.85"/>
<polygon points="157.4,707 163.7,705.75 163.7,708.25" fill="#141414"/>
<polygon points="217.6,707 211.3,708.25 211.3,705.75" fill="#141414"/>
<text transform="translate(187.5 701.3) scale(1.0 1)" y="2.95" font-size="8.19" text-anchor="middle" font-weight="normal" fill="#222" >54.5</text>
<line x1="147.2" y1="721.5" x2="227.6" y2="721.5" stroke="#141414" stroke-width="0.85"/>
<polygon points="147.2,721.5 153.5,720.25 153.5,722.75" fill="#141414"/>
<polygon points="227.6,721.5 221.3,722.75 221.3,720.25" fill="#141414"/>
<text transform="translate(187.4 715.5) scale(1.0 1)" y="3.59" font-size="9.97" text-anchor="middle" font-weight="normal" fill="#222" >73</text>
<line x1="97" y1="615.4" x2="124.5" y2="615.4" stroke="#141414" stroke-width="1.0"/>
<line x1="97" y1="629.2" x2="124.5" y2="629.2" stroke="#141414" stroke-width="1.0"/>
<line x1="101.6" y1="601.5" x2="101.6" y2="615.4" stroke="#141414" stroke-width="0.85"/>
<line x1="101.6" y1="629.2" x2="101.6" y2="657" stroke="#141414" stroke-width="0.85"/>
<polygon points="101.6,615.4 100.35,609.1 102.85,609.1" fill="#141414"/>
<polygon points="101.6,629.2 102.85,635.5 100.35,635.5" fill="#141414"/>
<text transform="translate(99.4 655.5) rotate(-90)" font-size="9.6" fill="#222">9 <tspan font-size="6.6">h6</tspan></text>
<path d="M397.5,514.8 V494.4 Q397.5,482.6 409.3,482.6 H459.2 Q471,482.6 471,494.4 V514.8 Z" stroke="#141414" stroke-width="1.0" fill="none" />
<line x1="397.5" y1="494.4" x2="471" y2="494.4" stroke="#141414" stroke-width="0.8"/>
<path d="M398.4,514.8 V566.2 M469.6,514.8 V566.2" stroke="#141414" stroke-width="0.8" fill="none" />
<path d="M398.4,566.2 H469.6" stroke="#141414" stroke-width="1.0" fill="none" />
<path d="M469.6,525.5 H485.3 V560.3 H469.6" stroke="#141414" stroke-width="1.0" fill="none" />
<path d="M408.3,566.2 V574 M462.7,566.2 V574 M459.6,566.2 V574" stroke="#141414" stroke-width="0.75" fill="none" />
<line x1="409" y1="567" x2="459" y2="567" stroke="#848484" stroke-width="0.6"/>
<rect x="400.5" y="574" width="67" height="8" rx="0" stroke="#141414" stroke-width="1.0" fill="none"/>
<line x1="400.5" y1="578.5" x2="467.5" y2="578.5" stroke="#141414" stroke-width="0.7"/>
<path d="M452.3,582 V588.5 M415.5,582 V597 L419.3,600 V649.5 L415.5,652 V670.3 H426.3" stroke="#141414" stroke-width="1.0" fill="none" />
<path d="M419.3,598.8 H438 M415.5,652 H431.5" stroke="#141414" stroke-width="0.7" fill="none" />
<circle cx="463.6" cy="622.2" r="14.6" stroke="#141414" stroke-width="0.75" fill="none"/>
<circle cx="463.6" cy="622.2" r="6.5" stroke="#141414" stroke-width="0.9" fill="none"/>
<rect x="462.1" y="613.8" width="4.2" height="2.2" rx="0" stroke="#141414" stroke-width="0.7" fill="#fff"/>
<path d="M465.8,616.4 L462.2,627.4" stroke="#141414" stroke-width="1.3" fill="none" />
<path d="M429.2,622.2 A34.4,34.4 0 0 1 498,622.2" stroke="#141414" stroke-width="0.85" fill="none" />
<path d="M429.2,622.2 V632.7 C427,637.2 426.6,644.2 431,650.7 Q433.8,654.5 432.8,657.7 L426.6,671" stroke="#141414" stroke-width="1.0" fill="none" />
<path d="M429.2,632.7 C433.6,628.2 442.6,622.8 450.5,628.1" stroke="#141414" stroke-width="1.0" fill="none" />
<path d="M498,622.2 V632.7 C500.2,637.2 500.6,644.2 496.2,650.7 Q493.4,654.5 494.4,657.7 L500.6,671" stroke="#141414" stroke-width="1.0" fill="none" />
<path d="M498,632.7 C493.6,628.2 484.6,622.8 476.7,628.1" stroke="#141414" stroke-width="1.0" fill="none" />
<line x1="426.4" y1="671.2" x2="500.8" y2="671.2" stroke="#141414" stroke-width="0.75"/>
<path d="M426.4,671.2 V678.8 H452.7 V671.8 M474.5,671.8 V678.8 H500.8 V671.2" stroke="#141414" stroke-width="1.0" fill="none" />
<line x1="452.7" y1="675.8" x2="474.5" y2="675.8" stroke="#141414" stroke-width="0.8"/>
<line x1="439" y1="671.2" x2="439" y2="678.8" stroke="#848484" stroke-width="0.8" stroke-dasharray="2 1.2"/>
<line x1="444.8" y1="671.2" x2="444.8" y2="678.8" stroke="#848484" stroke-width="0.8" stroke-dasharray="2 1.2"/>
<line x1="441.9" y1="667.2" x2="441.9" y2="681.8" stroke="#848484" stroke-width="0.6"/>
<line x1="482.5" y1="671.2" x2="482.5" y2="678.8" stroke="#848484" stroke-width="0.8" stroke-dasharray="2 1.2"/>
<line x1="488.3" y1="671.2" x2="488.3" y2="678.8" stroke="#848484" stroke-width="0.8" stroke-dasharray="2 1.2"/>
<line x1="485.4" y1="667.2" x2="485.4" y2="681.8" stroke="#848484" stroke-width="0.6"/>
<line x1="433.8" y1="464" x2="433.8" y2="595" stroke="#141414" stroke-width="0.85" stroke-dasharray="10 1.6 1.8 1.6"/>
<line x1="463.6" y1="535.5" x2="463.6" y2="682" stroke="#141414" stroke-width="0.85" stroke-dasharray="10 1.6 1.8 1.6"/>
<line x1="416" y1="622.2" x2="530" y2="622.2" stroke="#141414" stroke-width="0.85" stroke-dasharray="10 1.6 1.8 1.6"/>
<line x1="485.4" y1="464" x2="485.4" y2="523" stroke="#848484" stroke-width="0.55"/>
<line x1="433.8" y1="468.7" x2="485.4" y2="468.7" stroke="#141414" stroke-width="0.85"/>
<polygon points="433.8,468.7 440.1,467.45 440.1,469.95" fill="#141414"/>
<polygon points="485.4,468.7 479.1,469.95 479.1,467.45" fill="#141414"/>
<text transform="translate(459.6 463.2) scale(1.0 1)" y="3.59" font-size="9.97" text-anchor="middle" font-weight="normal" fill="#222" >AD</text>
<line x1="433.8" y1="539" x2="463.6" y2="539" stroke="#141414" stroke-width="0.85"/>
<polygon points="433.8,539 440.1,537.75 440.1,540.25" fill="#141414"/>
<polygon points="463.6,539 457.3,540.25 457.3,537.75" fill="#141414"/>
<text transform="translate(448.7 533.2) scale(1.0 1)" y="3.25" font-size="9.03" text-anchor="middle" font-weight="normal" fill="#222" >27</text>
<line x1="464.5" y1="482.6" x2="531" y2="482.6" stroke="#848484" stroke-width="0.55"/>
<line x1="469.6" y1="578.3" x2="531" y2="578.3" stroke="#141414" stroke-width="1.15"/>
<line x1="503" y1="671.2" x2="516" y2="671.2" stroke="#444" stroke-width="0.6"/>
<line x1="502" y1="678.8" x2="531" y2="678.8" stroke="#141414" stroke-width="1.15"/>
<line x1="526.8" y1="482.6" x2="526.8" y2="578.3" stroke="#141414" stroke-width="0.85"/>
<polygon points="526.8,482.6 528.05,488.9 525.55,488.9" fill="#141414"/>
<polygon points="526.8,578.3 525.55,572 528.05,572" fill="#141414"/>
<text transform="translate(520.8 530) rotate(-90) scale(1.0 1)" y="3.81" font-size="10.57" text-anchor="middle" font-weight="normal" fill="#222" >LB</text>
<line x1="526.8" y1="578.3" x2="526.8" y2="622.2" stroke="#141414" stroke-width="0.85"/>
<polygon points="526.8,578.3 528.05,584.6 525.55,584.6" fill="#141414"/>
<polygon points="526.8,622.2 525.55,615.9 528.05,615.9" fill="#141414"/>
<text transform="translate(520.8 600.2) rotate(-90) scale(1.0 1)" y="3.81" font-size="10.57" text-anchor="middle" font-weight="normal" fill="#222" >44</text>
<line x1="526.8" y1="622.2" x2="526.8" y2="678.8" stroke="#141414" stroke-width="0.85"/>
<polygon points="526.8,622.2 528.05,628.5 525.55,628.5" fill="#141414"/>
<polygon points="526.8,678.8 525.55,672.5 528.05,672.5" fill="#141414"/>
<text transform="translate(520.8 651.2) rotate(-90) scale(1.0 1)" y="3.81" font-size="10.57" text-anchor="middle" font-weight="normal" fill="#222" >52</text>
<line x1="511.9" y1="659.5" x2="511.9" y2="671.2" stroke="#141414" stroke-width="0.85"/>
<line x1="511.9" y1="678.8" x2="511.9" y2="699.5" stroke="#141414" stroke-width="0.85"/>
<polygon points="511.9,671.2 510.65,664.9 513.15,664.9" fill="#141414"/>
<polygon points="511.9,678.8 513.15,685.1 510.65,685.1" fill="#141414"/>
<text transform="translate(507.2 692) rotate(-90) scale(1.0 1)" y="3.45" font-size="9.57" text-anchor="middle" font-weight="normal" fill="#222" >7</text>
<line x1="426.4" y1="680.3" x2="426.4" y2="726.2" stroke="#141414" stroke-width="0.95"/>
<line x1="500.8" y1="680.3" x2="500.8" y2="726.2" stroke="#141414" stroke-width="0.95"/>
<line x1="426.4" y1="723.2" x2="500.8" y2="723.2" stroke="#141414" stroke-width="0.85"/>
<polygon points="426.4,723.2 432.7,721.95 432.7,724.45" fill="#141414"/>
<polygon points="500.8,723.2 494.5,724.45 494.5,721.95" fill="#141414"/>
<text transform="translate(463.6 717.8) scale(1.0 1)" y="3.59" font-size="9.97" text-anchor="middle" font-weight="normal" fill="#222" >70</text>
<line x1="441.9" y1="674.8" x2="441.9" y2="712.4" stroke="#141414" stroke-width="1.05"/>
<line x1="485.4" y1="674.8" x2="485.4" y2="712.4" stroke="#141414" stroke-width="1.05"/>
<line x1="441.9" y1="709.4" x2="485.4" y2="709.4" stroke="#141414" stroke-width="0.85"/>
<polygon points="441.9,709.4 448.2,708.15 448.2,710.65" fill="#141414"/>
<polygon points="485.4,709.4 479.1,710.65 479.1,708.15" fill="#141414"/>
<text transform="translate(463.65 703.8) scale(1.0 1)" y="3.59" font-size="9.97" text-anchor="middle" font-weight="normal" fill="#222" >40</text>
<line x1="439" y1="676.8" x2="439" y2="697.7" stroke="#141414" stroke-width="1.05"/>
<line x1="444.8" y1="676.8" x2="444.8" y2="697.7" stroke="#141414" stroke-width="1.05"/>
<line x1="428.4" y1="694.2" x2="439" y2="694.2" stroke="#141414" stroke-width="0.85"/>
<line x1="444.8" y1="694.2" x2="472.3" y2="694.2" stroke="#141414" stroke-width="0.85"/>
<polygon points="439,694.2 432.7,695.45 432.7,692.95" fill="#141414"/>
<polygon points="444.8,694.2 451.1,692.95 451.1,695.45" fill="#141414"/>
<text transform="translate(461.8 689.6) scale(1.0 1)" y="3.59" font-size="9.97" text-anchor="middle" font-weight="normal" fill="#222" >5.5</text>
<path d="M241.8,793.6 H234.2 V874.3 H241.8 Z" stroke="#a8a8a8" stroke-width="0.8" fill="none" stroke-dasharray="3 1.5" />
<line x1="237.6" y1="807.2" x2="237.6" y2="874.3" stroke="#a8a8a8" stroke-width="0.7" stroke-dasharray="3 1.5"/>
<line x1="234.2" y1="798.5" x2="215.4" y2="809.5" stroke="#a8a8a8" stroke-width="0.7" stroke-dasharray="3 1.5"/>
<line x1="234.2" y1="866.9" x2="215.4" y2="855.9" stroke="#a8a8a8" stroke-width="0.7" stroke-dasharray="3 1.5"/>
<line x1="234.2" y1="804.8" x2="218.1" y2="812" stroke="#a8a8a8" stroke-width="0.7" stroke-dasharray="3 1.5"/>
<line x1="234.2" y1="860.6" x2="218.1" y2="853.4" stroke="#a8a8a8" stroke-width="0.7" stroke-dasharray="3 1.5"/>
<line x1="226.6" y1="814.8" x2="215.4" y2="818.8" stroke="#a8a8a8" stroke-width="0.7" stroke-dasharray="3 1.5"/>
<line x1="226.6" y1="850.6" x2="215.4" y2="846.6" stroke="#a8a8a8" stroke-width="0.7" stroke-dasharray="3 1.5"/>
<line x1="234.2" y1="810.5" x2="221.9" y2="816.5" stroke="#a8a8a8" stroke-width="0.7" stroke-dasharray="3 1.5"/>
<line x1="234.2" y1="854.9" x2="221.9" y2="848.9" stroke="#a8a8a8" stroke-width="0.7" stroke-dasharray="3 1.5"/>
<path d="M234.2,825.2 H222.4 M234.2,840.3 H222.4 M225.8,825.2 V840.3 M224.2,825.2 V840.3" stroke="#a8a8a8" stroke-width="0.7" fill="none" stroke-dasharray="3 1.5" />
<path d="M241.8,826.1 H254.5 V839.5 H241.8" stroke="#a8a8a8" stroke-width="0.9" fill="none" stroke-dasharray="3 1.5" />
<path d="M169.45,814.94 A29.5,29.5 0 0 0 169.45,851.26" stroke="#999" stroke-width="0.7" fill="none" stroke-dasharray="3 1.6" />
<path d="M215.95,814.94 A29.5,29.5 0 0 1 215.95,851.26" stroke="#999" stroke-width="0.7" fill="none" stroke-dasharray="3 1.6" />
<path d="M156.12,811.18 A37.4,37.4 0 1 1 223.34,824.85" stroke="#141414" stroke-width="1.0" fill="none" />
<rect x="175.2" y="785.5" width="33.6" height="36.8" rx="3.3" stroke="#141414" stroke-width="0.7" fill="none"/>
<path d="M175.2,819 V869.2 M208.8,819 V869.2" stroke="#848484" stroke-width="0.8" fill="none" />
<path d="M172,798.7 V869.2 M211.6,798.7 V869.2" stroke="#848484" stroke-width="0.6" fill="none" />
<path d="M170,869.2 V798.7 H175.2 M208.8,798.7 H213.9 L216.4,805.3 L221.3,817.5 L222,826 V848.8 L214.3,868 V869.2 H170" stroke="#141414" stroke-width="1.0" fill="none" />
<path d="M221.3,817.5 L215.2,814.5" stroke="#141414" stroke-width="0.6" fill="none" />
<rect x="183.3" y="869.2" width="18.9" height="2" rx="0" stroke="#141414" stroke-width="0.7" fill="none"/>
<line x1="170" y1="869.4" x2="214.3" y2="869.4" stroke="#141414" stroke-width="1.1"/>
<path d="M143.6,793.6 H151.2 V874.3 H143.6 Z" stroke="#141414" stroke-width="1.0" fill="none" />
<line x1="147.8" y1="807.2" x2="147.8" y2="874.3" stroke="#141414" stroke-width="0.7"/>
<line x1="151.2" y1="798.5" x2="170" y2="809.5" stroke="#141414" stroke-width="0.7"/>
<line x1="151.2" y1="866.9" x2="170" y2="855.9" stroke="#141414" stroke-width="0.7"/>
<line x1="151.2" y1="804.8" x2="167.3" y2="812" stroke="#141414" stroke-width="0.7"/>
<line x1="151.2" y1="860.6" x2="167.3" y2="853.4" stroke="#141414" stroke-width="0.7"/>
<line x1="158.8" y1="814.8" x2="170" y2="818.8" stroke="#141414" stroke-width="0.7"/>
<line x1="158.8" y1="850.6" x2="170" y2="846.6" stroke="#141414" stroke-width="0.7"/>
<line x1="151.2" y1="810.5" x2="163.5" y2="816.5" stroke="#141414" stroke-width="0.7"/>
<line x1="151.2" y1="854.9" x2="163.5" y2="848.9" stroke="#141414" stroke-width="0.7"/>
<path d="M151.2,825.2 H163 M151.2,840.3 H163 M159.6,825.2 V840.3 M161.2,825.2 V840.3" stroke="#141414" stroke-width="0.7" fill="none" />
<path d="M143.6,826.5 H132.3 V840 H143.6" stroke="#141414" stroke-width="1.4" fill="none" />
<rect x="133.6" y="825" width="9" height="1.6" rx="0" stroke="#141414" stroke-width="0.8" fill="#222"/>
<line x1="175.5" y1="803.5" x2="209" y2="803.5" stroke="#141414" stroke-width="0.5" stroke-dasharray="3.4 1.6"/>
<line x1="126.7" y1="833.1" x2="227.5" y2="833.1" stroke="#141414" stroke-width="0.8" stroke-dasharray="10 1.6 1.8 1.6"/>
<line x1="192.7" y1="744" x2="192.7" y2="878" stroke="#141414" stroke-width="0.85" stroke-dasharray="10 1.6 1.8 1.6"/>
<line x1="131.6" y1="744" x2="131.6" y2="825" stroke="#141414" stroke-width="0.95"/>
<line x1="159.2" y1="744" x2="159.2" y2="839" stroke="#141414" stroke-width="0.95"/>
<line x1="221.8" y1="744" x2="221.8" y2="815" stroke="#141414" stroke-width="0.95"/>
<line x1="131.6" y1="748.4" x2="159.2" y2="748.4" stroke="#141414" stroke-width="0.85"/>
<polygon points="131.6,748.4 137.9,747.15 137.9,749.65" fill="#141414"/>
<polygon points="159.2,748.4 152.9,749.65 152.9,747.15" fill="#141414"/>
<text transform="translate(145.4 742.3) scale(1.0 1)" y="3.55" font-size="9.87" text-anchor="middle" font-weight="normal" fill="#222" >25</text>
<line x1="159.2" y1="748.4" x2="192.7" y2="748.4" stroke="#141414" stroke-width="0.85"/>
<polygon points="159.2,748.4 165.5,747.15 165.5,749.65" fill="#141414"/>
<polygon points="192.7,748.4 186.4,749.65 186.4,747.15" fill="#141414"/>
<text transform="translate(175.95 742.3) scale(1.0 1)" y="3.55" font-size="9.87" text-anchor="middle" font-weight="normal" fill="#222" >30</text>
<line x1="192.7" y1="748.4" x2="221.8" y2="748.4" stroke="#141414" stroke-width="0.85"/>
<polygon points="192.7,748.4 199,747.15 199,749.65" fill="#141414"/>
<polygon points="221.8,748.4 215.5,749.65 215.5,747.15" fill="#141414"/>
<text transform="translate(207.25 742.3) scale(1.0 1)" y="3.55" font-size="9.87" text-anchor="middle" font-weight="normal" fill="#222" >26.5</text>
<line x1="85.3" y1="807.4" x2="142.5" y2="807.4" stroke="#141414" stroke-width="0.85"/>
<line x1="85.3" y1="860.2" x2="94" y2="860.2" stroke="#141414" stroke-width="1.45"/>
<line x1="108" y1="860.2" x2="142.5" y2="860.2" stroke="#141414" stroke-width="1.05"/>
<line x1="89.8" y1="807.4" x2="89.8" y2="860.2" stroke="#141414" stroke-width="0.85"/>
<polygon points="89.8,807.4 91.05,813.7 88.55,813.7" fill="#141414"/>
<polygon points="89.8,860.2 88.55,853.9 91.05,853.9" fill="#141414"/>
<text transform="translate(88.1 846) rotate(-90)" font-size="11.4" fill="#222">40 <tspan font-size="7">H8</tspan></text>
<line x1="102.6" y1="826.6" x2="130.3" y2="826.6" stroke="#141414" stroke-width="1.0"/>
<line x1="102.6" y1="840.1" x2="130.3" y2="840.1" stroke="#141414" stroke-width="1.0"/>
<line x1="106.5" y1="812.6" x2="106.5" y2="826.6" stroke="#141414" stroke-width="0.85"/>
<line x1="106.5" y1="840.1" x2="106.5" y2="869.6" stroke="#141414" stroke-width="0.85"/>
<polygon points="106.5,826.6 105.25,820.3 107.75,820.3" fill="#141414"/>
<polygon points="106.5,840.1 107.75,846.4 105.25,846.4" fill="#141414"/>
<text transform="translate(104.3 867.3) rotate(-90)" font-size="9.6" fill="#222">9 <tspan font-size="6.6">h6</tspan></text>
<line x1="143.5" y1="876" x2="143.5" y2="912" stroke="#141414" stroke-width="1.05"/>
<line x1="147.8" y1="874.3" x2="147.8" y2="888.5" stroke="#141414" stroke-width="1.05"/>
<line x1="151.2" y1="876" x2="151.2" y2="900" stroke="#141414" stroke-width="1.05"/>
<line x1="133.8" y1="884.8" x2="143.5" y2="884.8" stroke="#141414" stroke-width="0.85"/>
<line x1="147.8" y1="884.8" x2="167.3" y2="884.8" stroke="#141414" stroke-width="0.85"/>
<polygon points="143.5,884.8 137.2,886.05 137.2,883.55" fill="#141414"/>
<polygon points="147.8,884.8 154.1,883.55 154.1,886.05" fill="#141414"/>
<text transform="translate(162.2 880.2) scale(1.0 1)" y="3.4" font-size="9.45" text-anchor="middle" font-weight="normal" fill="#222" >5</text>
<line x1="135.5" y1="896.7" x2="143.5" y2="896.7" stroke="#141414" stroke-width="0.85"/>
<line x1="151.2" y1="896.7" x2="172" y2="896.7" stroke="#141414" stroke-width="0.85"/>
<polygon points="143.5,896.7 137.2,897.95 137.2,895.45" fill="#141414"/>
<polygon points="151.2,896.7 157.5,895.45 157.5,897.95" fill="#141414"/>
<text transform="translate(165 892.2) scale(1.0 1)" y="3.4" font-size="9.45" text-anchor="middle" font-weight="normal" fill="#222" >7</text>
<line x1="192.7" y1="878" x2="192.7" y2="912" stroke="#141414" stroke-width="1.05"/>
<line x1="143.5" y1="908.7" x2="192.7" y2="908.7" stroke="#141414" stroke-width="0.85"/>
<polygon points="143.5,908.7 149.8,907.45 149.8,909.95" fill="#141414"/>
<polygon points="192.7,908.7 186.4,909.95 186.4,907.45" fill="#141414"/>
<text transform="translate(169.8 903.7) scale(1.0 1)" y="3.25" font-size="9.03" text-anchor="middle" font-weight="normal" fill="#222" >45.5</text>
<rect x="115.2" y="766.1" width="37.6" height="15.6" fill="#a7a9ac"/>
<text x="134" y="778.8" font-size="13.6" font-weight="bold" text-anchor="middle" fill="#fff" stroke="#fff" stroke-width="0.3">F1</text>
<rect x="228.0" y="766.1" width="38.2" height="15.6" fill="#a7a9ac"/>
<text x="247.1" y="778.8" font-size="13.6" font-weight="bold" text-anchor="middle" fill="#fff" stroke="#fff" stroke-width="0.3">F2</text>
<path d="M355.6,766.3 H335.7 A12.6,12.6 0 0 0 323.1,778.9 V829.5 A12.6,12.6 0 0 0 335.7,842.1 H355.6" stroke="#141414" stroke-width="1.0" fill="none" />
<line x1="335.7" y1="766.3" x2="335.7" y2="842.1" stroke="#141414" stroke-width="0.7"/>
<line x1="355.6" y1="766.3" x2="355.6" y2="842.1" stroke="#141414" stroke-width="0.8"/>
<path d="M355.6,767.3 H407 V778.6 H413.8 M413.8,829.8 H407 V841.1 H355.6" stroke="#141414" stroke-width="1.0" fill="none" />
<line x1="406" y1="778.6" x2="406" y2="829.8" stroke="#848484" stroke-width="0.8"/>
<rect x="413.8" y="770.7" width="8.9" height="67" rx="0" stroke="#141414" stroke-width="1.0" fill="none"/>
<line x1="417.7" y1="770.7" x2="417.7" y2="837.7" stroke="#141414" stroke-width="0.6"/>
<path d="M365.4,840.9 V853.7 H401.5 V840.9" stroke="#141414" stroke-width="1.0" fill="none" />
<path d="M422.7,785.4 H438.5 L442,789.2 H490.4 L493.5,785.4 H510.3 V822.4 H500.5" stroke="#141414" stroke-width="1.0" fill="none" />
<line x1="438.5" y1="785.4" x2="438.5" y2="802.8" stroke="#848484" stroke-width="0.7"/>
<line x1="493.5" y1="785.4" x2="493.5" y2="804.5" stroke="#141414" stroke-width="0.7"/>
<path d="M439.9,801.75 A39.4,39.4 0 0 0 435.1,860.61 L437.9,867 Q438.5,869.2 440.3,869.2 H446.4 A39.4,39.4 0 0 0 480.6,869.2 H486.7 Q488.5,869.2 489.1,867 L491.9,860.61 A39.4,39.4 0 0 0 487.1,801.75" stroke="#141414" stroke-width="1.0" fill="none" />
<path d="M435.1,860.61 A39.4,39.4 0 0 0 439.9,864.85" stroke="#141414" stroke-width="0.7" fill="none" />
<path d="M491.9,860.61 A39.4,39.4 0 0 1 487.1,864.85" stroke="#141414" stroke-width="0.7" fill="none" />
<path d="M446.4,811.7 V797.8 A39.4,39.4 0 0 1 480.6,797.8 V811.7" stroke="#141414" stroke-width="0.8" fill="none" />
<line x1="439.9" y1="801.75" x2="439.9" y2="814.8" stroke="#141414" stroke-width="0.8"/>
<line x1="439.9" y1="851.3" x2="439.9" y2="869.2" stroke="#777" stroke-width="0.8"/>
<line x1="446.4" y1="851.3" x2="446.4" y2="869.2" stroke="#777" stroke-width="0.8"/>
<line x1="439.9" y1="810.4" x2="446.1" y2="816.6" stroke="#141414" stroke-width="0.75"/>
<line x1="439.9" y1="816.6" x2="446.1" y2="810.4" stroke="#141414" stroke-width="0.75"/>
<path d="M439.9,813.5 A3.1,3.1 0 0 1 446.1,813.5" stroke="#141414" stroke-width="0.6" fill="none" />
<line x1="439.9" y1="850" x2="446.1" y2="856.2" stroke="#141414" stroke-width="0.75"/>
<line x1="439.9" y1="856.2" x2="446.1" y2="850" stroke="#141414" stroke-width="0.75"/>
<path d="M439.9,853.1 A3.1,3.1 0 0 0 446.1,853.1" stroke="#141414" stroke-width="0.6" fill="none" />
<line x1="487.1" y1="801.75" x2="487.1" y2="814.8" stroke="#141414" stroke-width="0.8"/>
<line x1="487.1" y1="851.3" x2="487.1" y2="869.2" stroke="#777" stroke-width="0.8"/>
<line x1="480.6" y1="851.3" x2="480.6" y2="869.2" stroke="#777" stroke-width="0.8"/>
<line x1="480.9" y1="810.4" x2="487.1" y2="816.6" stroke="#141414" stroke-width="0.75"/>
<line x1="480.9" y1="816.6" x2="487.1" y2="810.4" stroke="#141414" stroke-width="0.75"/>
<path d="M480.9,813.5 A3.1,3.1 0 0 1 487.1,813.5" stroke="#141414" stroke-width="0.6" fill="none" />
<line x1="480.9" y1="850" x2="487.1" y2="856.2" stroke="#141414" stroke-width="0.75"/>
<line x1="480.9" y1="856.2" x2="487.1" y2="850" stroke="#141414" stroke-width="0.75"/>
<path d="M480.9,853.1 A3.1,3.1 0 0 0 487.1,853.1" stroke="#141414" stroke-width="0.6" fill="none" />
<circle cx="463.5" cy="833.3" r="29" stroke="#141414" stroke-width="0.7" fill="none" stroke-dasharray="7 1.5 1.5 1.5"/>
<circle cx="463.5" cy="833.3" r="20.7" stroke="#141414" stroke-width="0.8" fill="none"/>
<circle cx="463.5" cy="833.3" r="6.8" stroke="#141414" stroke-width="0.9" fill="none"/>
<rect x="462" y="824.7" width="4.2" height="2.2" rx="0" stroke="#141414" stroke-width="0.7" fill="#fff"/>
<path d="M465.7,827.3 L462.1,838.7" stroke="#141414" stroke-width="1.3" fill="none" />
<line x1="289.5" y1="803.4" x2="543" y2="803.4" stroke="#555" stroke-width="0.55"/>
<line x1="463.5" y1="744" x2="463.5" y2="876" stroke="#141414" stroke-width="0.85" stroke-dasharray="10 1.6 1.8 1.6"/>
<line x1="427" y1="833.3" x2="560" y2="833.3" stroke="#141414" stroke-width="0.85" stroke-dasharray="10 1.6 1.8 1.6"/>
<line x1="322.6" y1="743" x2="322.6" y2="771" stroke="#141414" stroke-width="0.95"/>
<line x1="418.4" y1="744" x2="418.4" y2="766.5" stroke="#141414" stroke-width="0.95"/>
<line x1="510.4" y1="744" x2="510.4" y2="782" stroke="#141414" stroke-width="0.95"/>
<line x1="322.6" y1="748.6" x2="418.4" y2="748.6" stroke="#141414" stroke-width="0.85"/>
<polygon points="322.6,748.6 328.9,747.35 328.9,749.85" fill="#141414"/>
<polygon points="418.4,748.6 412.1,749.85 412.1,747.35" fill="#141414"/>
<text transform="translate(370.5 742.9) scale(1.0 1)" y="3.59" font-size="9.97" text-anchor="middle" font-weight="normal" fill="#222" >LB</text>
<line x1="418.4" y1="748.6" x2="463.5" y2="748.6" stroke="#141414" stroke-width="0.85"/>
<polygon points="418.4,748.6 424.7,747.35 424.7,749.85" fill="#141414"/>
<polygon points="463.5,748.6 457.2,749.85 457.2,747.35" fill="#141414"/>
<text transform="translate(440.95 742.9) scale(1.0 1)" y="3.59" font-size="9.97" text-anchor="middle" font-weight="normal" fill="#222" >44</text>
<line x1="463.5" y1="748.6" x2="510.4" y2="748.6" stroke="#141414" stroke-width="0.85"/>
<polygon points="463.5,748.6 469.8,747.35 469.8,749.85" fill="#141414"/>
<polygon points="510.4,748.6 504.1,749.85 504.1,747.35" fill="#141414"/>
<text transform="translate(486.95 742.9) scale(1.0 1)" y="3.59" font-size="9.97" text-anchor="middle" font-weight="normal" fill="#222" >43</text>
<line x1="306.4" y1="766.3" x2="329.5" y2="766.3" stroke="#141414" stroke-width="1.15"/>
<line x1="308.3" y1="842.1" x2="330.6" y2="842.1" stroke="#141414" stroke-width="0.95"/>
<line x1="309.7" y1="766.3" x2="309.7" y2="842.1" stroke="#141414" stroke-width="0.85"/>
<polygon points="309.7,766.3 310.95,772.6 308.45,772.6" fill="#141414"/>
<polygon points="309.7,842.1 308.45,835.8 310.95,835.8" fill="#141414"/>
<text transform="translate(304.4 804) rotate(-90) scale(1.0 1)" y="3.81" font-size="10.57" text-anchor="middle" font-weight="normal" fill="#222" >AC</text>
<line x1="291.3" y1="854" x2="364" y2="854" stroke="#141414" stroke-width="1.25"/>
<line x1="294.7" y1="803.4" x2="294.7" y2="854" stroke="#141414" stroke-width="0.85"/>
<polygon points="294.7,803.4 295.95,809.7 293.45,809.7" fill="#141414"/>
<polygon points="294.7,854 293.45,847.7 295.95,847.7" fill="#141414"/>
<text transform="translate(289.3 827.6) rotate(-90) scale(1.0 1)" y="3.81" font-size="10.57" text-anchor="middle" font-weight="normal" fill="#222" >AD</text>
<line x1="513.8" y1="785.4" x2="561" y2="785.4" stroke="#141414" stroke-width="1.15"/>
<line x1="540" y1="803.4" x2="540" y2="833.3" stroke="#141414" stroke-width="0.85"/>
<polygon points="540,803.4 541.25,809.7 538.75,809.7" fill="#141414"/>
<polygon points="540,833.3 538.75,827 541.25,827" fill="#141414"/>
<text transform="translate(534.4 817.8) rotate(-90) scale(1.0 1)" y="3.81" font-size="10.57" text-anchor="middle" font-weight="normal" fill="#222" >27</text>
<line x1="554.7" y1="785.4" x2="554.7" y2="833.3" stroke="#141414" stroke-width="0.85"/>
<polygon points="554.7,785.4 555.95,791.7 553.45,791.7" fill="#141414"/>
<polygon points="554.7,833.3 553.45,827 555.95,827" fill="#141414"/>
<text transform="translate(549.3 809.6) rotate(-90) scale(1.0 1)" y="3.81" font-size="10.57" text-anchor="middle" font-weight="normal" fill="#222" >47</text>
<line x1="424" y1="845" x2="424" y2="912" stroke="#141414" stroke-width="1.05"/>
<line x1="503.4" y1="844" x2="503.4" y2="912" stroke="#141414" stroke-width="1.05"/>
<line x1="434.3" y1="842" x2="434.3" y2="901" stroke="#141414" stroke-width="1.05"/>
<line x1="492.5" y1="843" x2="492.5" y2="901" stroke="#141414" stroke-width="1.05"/>
<line x1="439.9" y1="868" x2="439.9" y2="889" stroke="#141414" stroke-width="1.05"/>
<line x1="446.1" y1="870" x2="446.1" y2="889" stroke="#141414" stroke-width="1.05"/>
<line x1="429" y1="885.1" x2="439.9" y2="885.1" stroke="#141414" stroke-width="0.85"/>
<line x1="446.1" y1="885.1" x2="474.5" y2="885.1" stroke="#141414" stroke-width="0.85"/>
<polygon points="439.9,885.1 433.6,886.35 433.6,883.85" fill="#141414"/>
<polygon points="446.1,885.1 452.4,883.85 452.4,886.35" fill="#141414"/>
<text transform="translate(463.4 880.2) scale(1.0 1)" y="3.59" font-size="9.97" text-anchor="middle" font-weight="normal" fill="#222" >5.5</text>
<line x1="434.3" y1="897.2" x2="492.5" y2="897.2" stroke="#141414" stroke-width="0.85"/>
<polygon points="434.3,897.2 440.6,895.95 440.6,898.45" fill="#141414"/>
<polygon points="492.5,897.2 486.2,898.45 486.2,895.95" fill="#141414"/>
<text transform="translate(464 892.1) scale(1.0 1)" y="3.59" font-size="9.97" text-anchor="middle" font-weight="normal" fill="#222" >54</text>
<line x1="424" y1="908.9" x2="503.4" y2="908.9" stroke="#141414" stroke-width="0.85"/>
<polygon points="424,908.9 430.3,907.65 430.3,910.15" fill="#141414"/>
<polygon points="503.4,908.9 497.1,910.15 497.1,907.65" fill="#141414"/>
<text transform="translate(464 903.6) scale(1.0 1)" y="3.59" font-size="9.97" text-anchor="middle" font-weight="normal" fill="#222" >75</text>
<line x1="9.5" y1="919.6" x2="784.44" y2="919.6" stroke="#141414" stroke-width="1.5"/>
<line x1="9.5" y1="1044.3" x2="784.44" y2="1044.3" stroke="#141414" stroke-width="1.4"/>
<line x1="10.2" y1="919.6" x2="10.2" y2="1044.3" stroke="#141414" stroke-width="1.4"/>
<line x1="783.74" y1="919.6" x2="783.74" y2="1044.3" stroke="#141414" stroke-width="1.4"/>
<line x1="10.2" y1="989.3" x2="783.74" y2="989.3" stroke="#141414" stroke-width="1.4"/>
<line x1="10.2" y1="1008" x2="783.74" y2="1008" stroke="#141414" stroke-width="1.2"/>
<line x1="10.2" y1="1026.3" x2="783.74" y2="1026.3" stroke="#141414" stroke-width="1.2"/>
<line x1="92.7" y1="919.6" x2="92.7" y2="1044.3" stroke="#141414" stroke-width="1.1"/>
<line x1="142.06" y1="919.6" x2="142.06" y2="1044.3" stroke="#666" stroke-width="0.7"/>
<line x1="191.42" y1="919.6" x2="191.42" y2="1044.3" stroke="#141414" stroke-width="1.1"/>
<line x1="240.78" y1="919.6" x2="240.78" y2="1044.3" stroke="#333" stroke-width="0.85"/>
<line x1="290.14" y1="919.6" x2="290.14" y2="1044.3" stroke="#141414" stroke-width="1.1"/>
<line x1="339.5" y1="919.6" x2="339.5" y2="1044.3" stroke="#333" stroke-width="0.85"/>
<line x1="388.86" y1="919.6" x2="388.86" y2="1044.3" stroke="#333" stroke-width="0.85"/>
<line x1="438.22" y1="919.6" x2="438.22" y2="1044.3" stroke="#141414" stroke-width="1.1"/>
<line x1="487.58" y1="919.6" x2="487.58" y2="1044.3" stroke="#666" stroke-width="0.7"/>
<line x1="536.94" y1="919.6" x2="536.94" y2="1044.3" stroke="#141414" stroke-width="1.1"/>
<line x1="586.3" y1="919.6" x2="586.3" y2="1044.3" stroke="#141414" stroke-width="1.1"/>
<line x1="635.66" y1="919.6" x2="635.66" y2="1044.3" stroke="#141414" stroke-width="1.1"/>
<line x1="685.02" y1="919.6" x2="685.02" y2="1044.3" stroke="#141414" stroke-width="1.1"/>
<line x1="734.38" y1="919.6" x2="734.38" y2="1044.3" stroke="#666" stroke-width="0.7"/>
<text transform="translate(117.38 940.7) scale(1.13 1)" font-size="12.6" text-anchor="middle" font-weight="bold" fill="#1a1a1a" >P<tspan font-size="9.5" dy="2.5">n</tspan></text>
<text transform="translate(117.38 975.3) scale(1.13 1)" font-size="12.6" text-anchor="middle" font-weight="normal" fill="#333" >kW</text>
<text transform="translate(166.74 940.7) scale(1.13 1)" font-size="12.6" text-anchor="middle" font-weight="bold" fill="#1a1a1a" >n</text>
<text transform="translate(166.74 975.3) scale(1.13 1)" font-size="12.6" text-anchor="middle" font-weight="normal" fill="#333" >min<tspan font-size="10" dy="-2.2">-1</tspan></text>
<text transform="translate(216.1 940.7) scale(1.13 1)" font-size="12.6" text-anchor="middle" font-weight="bold" fill="#1a1a1a" >M<tspan font-size="9.5" dy="2.5">n</tspan></text>
<text transform="translate(216.1 975.3) scale(1.13 1)" font-size="12.6" text-anchor="middle" font-weight="normal" fill="#333" >Nm</text>
<text transform="translate(265.46 940.7) scale(1.13 1)" font-size="12.6" text-anchor="middle" font-weight="bold" fill="#1a1a1a" >&#951;</text>
<text transform="translate(265.46 975.3) scale(1.13 1)" font-size="12.6" text-anchor="middle" font-weight="normal" fill="#333" >%</text>
<text transform="translate(315.82 958.8) scale(1.13 1)" font-size="12.6" text-anchor="middle" font-weight="bold" fill="#1a1a1a" >COS&#966;</text>
<text transform="translate(364.18 940.8) scale(1.13 1)" font-size="12.6" text-anchor="middle" font-weight="bold" fill="#1a1a1a" >In</text>
<text transform="translate(364.18 966) scale(1.13 1)" font-size="12.6" text-anchor="middle" font-weight="normal" fill="#333" >A</text>
<text transform="translate(364.18 983.4) scale(1.13 1)" font-size="12.6" text-anchor="middle" font-weight="normal" fill="#333" >(400V)</text>
<text transform="translate(413.54 950.6) scale(1.13 1)" font-size="12.6" text-anchor="middle" font-weight="bold" fill="#1a1a1a" >Is</text>
<text transform="translate(413.54 967.7) scale(1.13 1)" font-size="12.6" text-anchor="middle" font-weight="bold" fill="#1a1a1a" >In</text>
<line x1="402.04" y1="954.6" x2="425.04" y2="954.6" stroke="#555" stroke-width="0.8"/>
<text transform="translate(462.9 950.6) scale(1.13 1)" font-size="12.6" text-anchor="middle" font-weight="bold" fill="#1a1a1a" >Ms</text>
<text transform="translate(462.9 967.7) scale(1.13 1)" font-size="12.6" text-anchor="middle" font-weight="bold" fill="#1a1a1a" >Mn</text>
<line x1="451.4" y1="954.6" x2="474.4" y2="954.6" stroke="#555" stroke-width="0.8"/>
<text transform="translate(512.26 950.6) scale(1.13 1)" font-size="12.6" text-anchor="middle" font-weight="bold" fill="#1a1a1a" >Ma</text>
<text transform="translate(512.26 967.7) scale(1.13 1)" font-size="12.6" text-anchor="middle" font-weight="bold" fill="#1a1a1a" >Mn</text>
<line x1="500.76" y1="954.6" x2="523.76" y2="954.6" stroke="#555" stroke-width="0.8"/>
<text transform="translate(561.62 931) scale(1.13 1)" font-size="12.6" text-anchor="middle" font-weight="bold" fill="#1a1a1a" >Jm</text>
<text transform="translate(561.62 950.6) scale(1.13 1)" font-size="12.6" text-anchor="middle" font-weight="normal" fill="#333" >(&#183;10<tspan font-size="10" dy="-2.2">-4</tspan><tspan dy="2.2">)</tspan></text>
<text transform="translate(561.62 984.7) scale(1.13 1)" font-size="12.6" text-anchor="middle" font-weight="normal" fill="#333" >kgm<tspan font-size="10.5" dy="-2.5">2</tspan></text>
<circle cx="610.45" cy="947.3" r="2.9" stroke="#141414" stroke-width="0.9" fill="none"/>
<path d="M603.7,950.8 L617.2,950.8 L620.75,964.7 L600.15,964.7 Z" stroke="#141414" stroke-width="0.3" fill="#111" />
<text x="610.65" y="961.5" font-size="10.2" text-anchor="middle" fill="#fff" textLength="11" lengthAdjust="spacingAndGlyphs">Kg</text>
<text transform="translate(660.34 959.5) scale(1.13 1)" font-size="12.6" text-anchor="middle" font-weight="bold" fill="#1a1a1a" >LB</text>
<text transform="translate(709.7 959.5) scale(1.13 1)" font-size="12.6" text-anchor="middle" font-weight="bold" fill="#1a1a1a" >AC</text>
<text transform="translate(759.06 959.5) scale(1.13 1)" font-size="12.6" text-anchor="middle" font-weight="bold" fill="#1a1a1a" >AD</text>
<text transform="translate(15.6 1003.7) scale(1.13 1)" font-size="12.6" text-anchor="start" font-weight="bold" fill="#1a1a1a" >BN 27A4</text>
<text transform="translate(117.38 1003.7) scale(1.13 1)" font-size="12.6" text-anchor="middle" font-weight="normal" fill="#333" >0.04</text>
<text transform="translate(166.74 1003.7) scale(1.13 1)" font-size="12.6" text-anchor="middle" font-weight="normal" fill="#333" >1350</text>
<text transform="translate(216.1 1003.7) scale(1.13 1)" font-size="12.6" text-anchor="middle" font-weight="normal" fill="#333" >0.28</text>
<text transform="translate(265.46 1003.7) scale(1.13 1)" font-size="12.6" text-anchor="middle" font-weight="normal" fill="#333" >36</text>
<text transform="translate(314.82 1003.7) scale(1.13 1)" font-size="12.6" text-anchor="middle" font-weight="normal" fill="#333" >0.57</text>
<text transform="translate(364.18 1003.7) scale(1.13 1)" font-size="12.6" text-anchor="middle" font-weight="normal" fill="#333" >0.28</text>
<text transform="translate(413.54 1003.7) scale(1.13 1)" font-size="12.6" text-anchor="middle" font-weight="normal" fill="#333" >2.3</text>
<text transform="translate(462.9 1003.7) scale(1.13 1)" font-size="12.6" text-anchor="middle" font-weight="normal" fill="#333" >2.0</text>
<text transform="translate(512.26 1003.7) scale(1.13 1)" font-size="12.6" text-anchor="middle" font-weight="normal" fill="#333" >1.8</text>
<text transform="translate(561.62 1003.7) scale(1.13 1)" font-size="12.6" text-anchor="middle" font-weight="normal" fill="#333" >0.56</text>
<text transform="translate(610.98 1003.7) scale(1.13 1)" font-size="12.6" text-anchor="middle" font-weight="normal" fill="#333" >2.8</text>
<text transform="translate(660.34 1003.7) scale(1.13 1)" font-size="12.6" text-anchor="middle" font-weight="normal" fill="#333" >132</text>
<text transform="translate(709.7 1003.7) scale(1.13 1)" font-size="12.6" text-anchor="middle" font-weight="normal" fill="#333" >103</text>
<text transform="translate(759.06 1003.7) scale(1.13 1)" font-size="12.6" text-anchor="middle" font-weight="normal" fill="#333" >76</text>
<text transform="translate(15.6 1022) scale(1.13 1)" font-size="12.6" text-anchor="start" font-weight="bold" fill="#1a1a1a" >BN 27B4</text>
<text transform="translate(117.38 1022) scale(1.13 1)" font-size="12.6" text-anchor="middle" font-weight="normal" fill="#333" >0.06</text>
<text transform="translate(166.74 1022) scale(1.13 1)" font-size="12.6" text-anchor="middle" font-weight="normal" fill="#333" >1360</text>
<text transform="translate(216.1 1022) scale(1.13 1)" font-size="12.6" text-anchor="middle" font-weight="normal" fill="#333" >0.42</text>
<text transform="translate(265.46 1022) scale(1.13 1)" font-size="12.6" text-anchor="middle" font-weight="normal" fill="#333" >39</text>
<text transform="translate(314.82 1022) scale(1.13 1)" font-size="12.6" text-anchor="middle" font-weight="normal" fill="#333" >0.57</text>
<text transform="translate(364.18 1022) scale(1.13 1)" font-size="12.6" text-anchor="middle" font-weight="normal" fill="#333" >0.39</text>
<text transform="translate(413.54 1022) scale(1.13 1)" font-size="12.6" text-anchor="middle" font-weight="normal" fill="#333" >2.5</text>
<text transform="translate(462.9 1022) scale(1.13 1)" font-size="12.6" text-anchor="middle" font-weight="normal" fill="#333" >2.2</text>
<text transform="translate(512.26 1022) scale(1.13 1)" font-size="12.6" text-anchor="middle" font-weight="normal" fill="#333" >1.9</text>
<text transform="translate(561.62 1022) scale(1.13 1)" font-size="12.6" text-anchor="middle" font-weight="normal" fill="#333" >0.76</text>
<text transform="translate(610.98 1022) scale(1.13 1)" font-size="12.6" text-anchor="middle" font-weight="normal" fill="#333" >3.1</text>
<text transform="translate(660.34 1022) scale(1.13 1)" font-size="12.6" text-anchor="middle" font-weight="normal" fill="#333" >149</text>
<text transform="translate(709.7 1022) scale(1.13 1)" font-size="12.6" text-anchor="middle" font-weight="normal" fill="#333" >103</text>
<text transform="translate(759.06 1022) scale(1.13 1)" font-size="12.6" text-anchor="middle" font-weight="normal" fill="#333" >76</text>
<text transform="translate(15.6 1040.2) scale(1.13 1)" font-size="12.6" text-anchor="start" font-weight="bold" fill="#1a1a1a" >BN 27C4</text>
<text transform="translate(117.38 1040.2) scale(1.13 1)" font-size="12.6" text-anchor="middle" font-weight="normal" fill="#333" >0.09</text>
<text transform="translate(166.74 1040.2) scale(1.13 1)" font-size="12.6" text-anchor="middle" font-weight="normal" fill="#333" >1380</text>
<text transform="translate(216.1 1040.2) scale(1.13 1)" font-size="12.6" text-anchor="middle" font-weight="normal" fill="#333" >0.63</text>
<text transform="translate(265.46 1040.2) scale(1.13 1)" font-size="12.6" text-anchor="middle" font-weight="normal" fill="#333" >46</text>
<text transform="translate(314.82 1040.2) scale(1.13 1)" font-size="12.6" text-anchor="middle" font-weight="normal" fill="#333" >0.65</text>
<text transform="translate(364.18 1040.2) scale(1.13 1)" font-size="12.6" text-anchor="middle" font-weight="normal" fill="#333" >0.43</text>
<text transform="translate(413.54 1040.2) scale(1.13 1)" font-size="12.6" text-anchor="middle" font-weight="normal" fill="#333" >2.8</text>
<text transform="translate(462.9 1040.2) scale(1.13 1)" font-size="12.6" text-anchor="middle" font-weight="normal" fill="#333" >2.3</text>
<text transform="translate(512.26 1040.2) scale(1.13 1)" font-size="12.6" text-anchor="middle" font-weight="normal" fill="#333" >1.9</text>
<text transform="translate(561.62 1040.2) scale(1.13 1)" font-size="12.6" text-anchor="middle" font-weight="normal" fill="#333" >1.49</text>
<text transform="translate(610.98 1040.2) scale(1.13 1)" font-size="12.6" text-anchor="middle" font-weight="normal" fill="#333" >3.3</text>
<text transform="translate(660.34 1040.2) scale(1.13 1)" font-size="12.6" text-anchor="middle" font-weight="normal" fill="#333" >175</text>
<text transform="translate(709.7 1040.2) scale(1.13 1)" font-size="12.6" text-anchor="middle" font-weight="normal" fill="#333" >112</text>
<text transform="translate(759.06 1040.2) scale(1.13 1)" font-size="12.6" text-anchor="middle" font-weight="normal" fill="#333" >94</text>
<path d="M30.5,941.1 H63.6 V968.4 H30.5 Q26.1,968.4 26.1,964 V945.5 Q26.1,941.1 30.5,941.1 Z" stroke="#8a8a8a" stroke-width="0.8" fill="none" />
<path d="M29,967.6 Q26.1,966.5 26.1,964 V945.5 Q26.1,941.1 30.5,941.1 H63.6 V943.4" stroke="#3a3a3a" stroke-width="0.8" fill="none" />
<line x1="31.5" y1="941.1" x2="31.5" y2="968.4" stroke="#8a8a8a" stroke-width="0.7"/>
<line x1="39.7" y1="941.1" x2="39.7" y2="968.4" stroke="#b0b0b0" stroke-width="0.8"/>
<path d="M63.6,943.4 H66.5 M63.6,966.6 H66.5" stroke="#3a3a3a" stroke-width="0.9" fill="none" />
<rect x="66.7" y="937.3" width="2.8" height="36.1" rx="0" stroke="#777" stroke-width="0.6" fill="#c4c4c4"/>
<line x1="68" y1="937" x2="68" y2="938.2" stroke="#3a3a3a" stroke-width="1.4"/>
<line x1="68" y1="972.4" x2="68" y2="973.6" stroke="#3a3a3a" stroke-width="1.4"/>
<path d="M69.6,953.1 H77.8 V956.6 H69.6" stroke="#8a8a8a" stroke-width="0.8" fill="none" />
<line x1="69.6" y1="953.1" x2="75.5" y2="953.1" stroke="#3a3a3a" stroke-width="0.8"/>
</svg>
</body></html>
